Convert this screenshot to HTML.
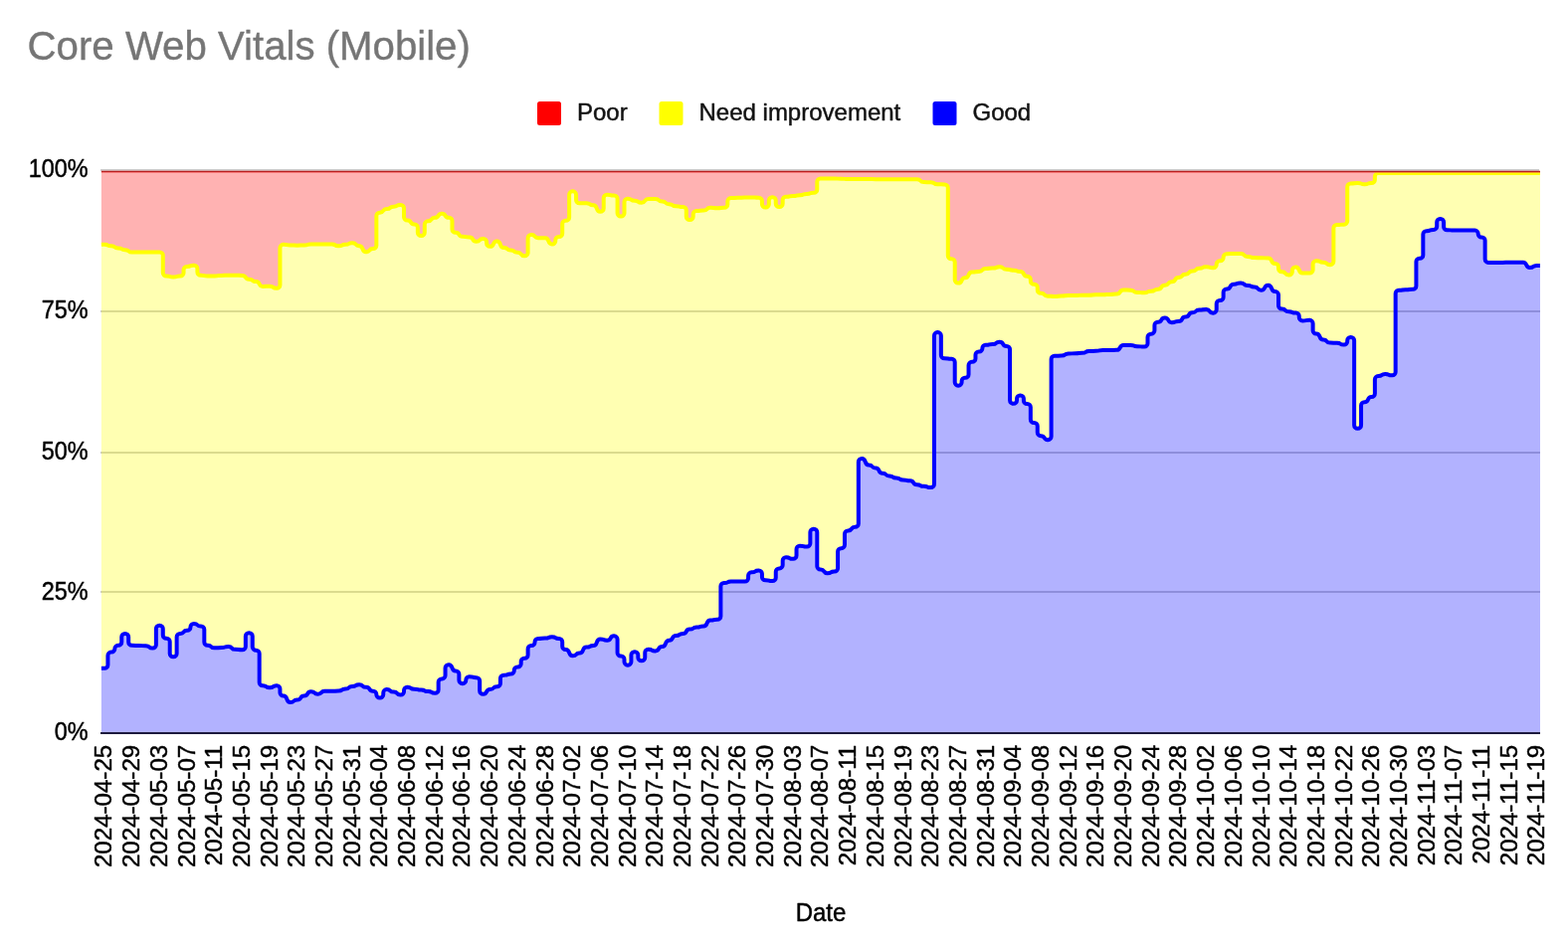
<!DOCTYPE html>
<html lang="en">
<head>
<meta charset="utf-8">
<title>Core Web Vitals (Mobile)</title>
<style>
html,body{margin:0;padding:0;background:#fff;}
body{width:1576px;height:954px;overflow:hidden;font-family:"Liberation Sans",Arial,sans-serif;}
svg{display:block;}
text{font-family:"Liberation Sans",Arial,sans-serif;}
text{paint-order:stroke;stroke-linejoin:round;}
.title{font-size:40.2px;fill:#757575;stroke:#757575;stroke-width:0.35px;}
.leg text,.yax text,.xax text,.xt{font-size:24px;fill:#000;stroke:#000;stroke-width:0.45px;}
.leg text{fill:#111;stroke:#111;}
</style>
</head>
<body>
<svg width="1576" height="954" viewBox="0 0 1576 954">
<rect width="1576" height="954" fill="#fff"/>
<text class="title" transform="translate(27.6 59.7) scale(1 1.03)">Core Web Vitals (Mobile)</text>
<g class="leg">
<rect x="540" y="102" width="24" height="24" rx="2.5" fill="#f00"/>
<text x="580" y="120.6">Poor</text>
<rect x="662.5" y="102" width="24" height="24" rx="2.5" fill="#ff0"/>
<text x="702.5" y="120.6">Need improvement</text>
<rect x="937.5" y="102" width="24" height="24" rx="2.5" fill="#00f"/>
<text x="977.5" y="120.6">Good</text>
</g>
<g class="grid"><rect x="101" y="170" width="1446" height="2" fill="#ccc"/><rect x="101" y="312" width="1447" height="2" fill="#ccc"/><rect x="101" y="454" width="1447" height="2" fill="#ccc"/><rect x="101" y="594" width="1447" height="2" fill="#ccc"/></g>
<g class="areas">
<path d="M101.9 671.84H105.12C106.94 671.84 108.42 670.36 108.42 668.54V658.89C108.42 657.07 109.9 655.59 111.72 655.59H112.04C113.86 655.59 115.34 654.11 115.34 652.29V652.15C115.34 650.33 116.82 648.85 118.64 648.85H118.96C120.79 648.85 122.26 647.37 122.26 645.55V640.26C122.26 638.44 123.74 636.96 125.56 636.96H125.88C127.71 636.96 129.18 638.44 129.18 640.26V645.55C129.18 647.37 130.66 648.85 132.48 648.85H132.81C137.26 648.85 134.95 649.01 139.41 649.01H139.73C144.18 649.01 141.87 649.24 146.33 649.24H146.65C151.1 649.24 148.79 651.62 153.25 651.62H153.57C155.39 651.62 156.87 650.14 156.87 648.32V631.93C156.87 630.11 158.35 628.63 160.17 628.63H160.49C162.31 628.63 163.79 630.11 163.79 631.93V638.41C163.79 640.23 165.27 641.71 167.09 641.71H167.41C169.23 641.71 170.71 643.19 170.71 645.01V657.04C170.71 658.86 172.19 660.34 174.01 660.34H174.33C176.15 660.34 177.63 658.86 177.63 657.04V640.26C177.63 638.44 179.11 636.96 180.93 636.96H181.25C185.71 636.96 183.4 633.78 187.85 633.78H188.17C190 633.78 191.47 632.3 191.47 630.48V630.35C191.47 628.53 192.95 627.05 194.77 627.05H195.09C199.55 627.05 197.24 629.42 201.69 629.42H202.02C203.84 629.42 205.32 630.9 205.32 632.72V645.55C205.32 647.37 206.79 648.85 208.62 648.85H208.94C213.39 648.85 211.08 651.23 215.54 651.23H215.86C220.31 651.23 218 651.07 222.46 651.07H222.78C227.23 651.07 224.92 650.06 229.38 650.06H229.7C234.16 650.06 231.84 652.84 236.3 652.84H236.62C241.08 652.84 238.77 653.23 243.22 653.23H243.54C245.36 653.23 246.84 651.75 246.84 649.93V639.49C246.84 637.67 248.32 636.19 250.14 636.19H250.46C252.29 636.19 253.76 637.67 253.76 639.49V650.33C253.76 652.15 255.24 653.63 257.06 653.63H257.38C259.21 653.63 260.68 655.11 260.68 656.93V686.01C260.68 687.83 262.16 689.31 263.98 689.31H264.31C268.76 689.31 266.45 691.29 270.91 691.29H271.23C275.68 691.29 273.37 689.15 277.83 689.15H278.15C279.97 689.15 281.45 690.63 281.45 692.45V696.31C281.45 698.13 282.92 699.61 284.75 699.61H285.07C289.52 699.61 287.21 705.96 291.67 705.96H291.99C296.44 705.96 294.13 703.58 298.59 703.58H298.91C303.37 703.58 301.06 699.61 305.51 699.61H305.83C310.29 699.61 307.98 695.25 312.43 695.25H312.75C317.21 695.25 314.9 697.63 319.35 697.63H319.67C324.13 697.63 321.82 694.86 326.27 694.86H333.52C337.97 694.86 335.66 694.46 340.12 694.46H340.44C344.89 694.46 342.58 692.48 347.04 692.48H347.36C351.81 692.48 349.5 689.95 353.96 689.95H354.28C358.73 689.95 356.42 688.36 360.88 688.36H361.2C365.65 688.36 363.35 690.74 367.8 690.74H368.12C372.58 690.74 370.27 694.7 374.72 694.7H375.04C376.86 694.7 378.34 696.18 378.34 698V698.14C378.34 699.96 379.82 701.44 381.64 701.44H381.96C383.79 701.44 385.26 699.96 385.26 698.14V696.42C385.26 694.6 386.74 693.12 388.56 693.12H388.88C393.34 693.12 391.03 695.5 395.48 695.5H395.81C400.26 695.5 397.95 698.51 402.41 698.51H402.73C404.55 698.51 406.03 697.03 406.03 695.21V694.04C406.03 692.22 407.5 690.74 409.33 690.74H409.65C414.1 690.74 411.79 692.72 416.25 692.72H416.57C421.02 692.72 418.71 693.51 423.17 693.51H423.49C427.94 693.51 425.63 695.1 430.09 695.1H430.41C434.87 695.1 432.56 696.69 437.01 696.69H437.33C439.15 696.69 440.63 695.21 440.63 693.39V685.72C440.63 683.9 442.11 682.42 443.93 682.42H444.25C446.08 682.42 447.55 680.94 447.55 679.12V671.44C447.55 669.62 449.03 668.14 450.85 668.14H451.17C455.63 668.14 453.32 674.49 457.77 674.49H458.09C459.92 674.49 461.39 675.97 461.39 677.79V683.87C461.39 685.69 462.87 687.17 464.69 687.17H465.02C466.84 687.17 468.32 685.69 468.32 683.87V683.57C468.32 681.75 469.79 680.27 471.62 680.27H471.94C476.39 680.27 474.08 681.14 478.54 681.14H478.86C480.68 681.14 482.16 682.62 482.16 684.44V694.49C482.16 696.31 483.64 697.79 485.46 697.79H485.78C490.23 697.79 487.92 693.03 492.38 693.03H492.7C497.15 693.03 494.85 690.25 499.3 690.25H499.62C501.44 690.25 502.92 688.77 502.92 686.95V682.06C502.92 680.24 504.4 678.76 506.22 678.76H506.54C511 678.76 508.69 677.57 513.14 677.57H513.46C515.29 677.57 516.76 676.09 516.76 674.27V673.73C516.76 671.91 518.24 670.43 520.06 670.43H520.38C522.21 670.43 523.68 668.95 523.68 667.13V665.01C523.68 663.19 525.16 661.71 526.98 661.71H527.31C529.13 661.71 530.61 660.23 530.61 658.41V652.33C530.61 650.51 532.08 649.03 533.91 649.03H534.23C536.05 649.03 537.53 647.55 537.53 645.73V645.19C537.53 643.37 539 641.89 540.83 641.89H541.15C545.6 641.89 543.29 641.5 547.75 641.5H548.07C552.52 641.5 550.21 640.31 554.67 640.31H554.99C559.44 640.31 557.13 641.89 561.59 641.89H561.91C563.73 641.89 565.21 643.37 565.21 645.19V649.69C565.21 651.51 566.69 652.99 568.51 652.99H568.83C573.29 652.99 570.98 659.33 575.43 659.33H575.75C580.21 659.33 577.9 656.56 582.35 656.56H582.67C587.13 656.56 584.82 650.61 589.27 650.61H589.59C594.05 650.61 591.74 649.03 596.19 649.03H596.52C600.97 649.03 598.66 642.51 603.12 642.51H603.44C607.89 642.51 605.58 643.69 610.04 643.69H610.36C614.81 643.69 612.5 639.33 616.96 639.33H617.28C619.1 639.33 620.58 640.81 620.58 642.63V656.25C620.58 658.07 622.06 659.55 623.88 659.55H624.2C626.02 659.55 627.5 661.03 627.5 662.85V665.37C627.5 667.19 628.98 668.67 630.8 668.67H631.12C632.94 668.67 634.42 667.19 634.42 665.37V658.49C634.42 656.67 635.9 655.19 637.72 655.19H638.04C639.86 655.19 641.34 656.67 641.34 658.49V661.01C641.34 662.83 642.82 664.31 644.64 664.31H644.96C646.79 664.31 648.26 662.83 648.26 661.01V656.11C648.26 654.29 649.74 652.81 651.56 652.81H651.88C656.34 652.81 654.03 654.4 658.48 654.4H658.81C663.26 654.4 660.95 650.04 665.41 650.04H665.73C670.18 650.04 667.87 643.69 672.33 643.69H672.65C677.1 643.69 674.79 638.94 679.25 638.94H679.57C684.02 638.94 681.71 636.96 686.17 636.96H686.49C690.94 636.96 688.63 632.6 693.09 632.6H693.41C697.87 632.6 695.56 630.61 700.01 630.61H700.33C704.79 630.61 702.48 629.42 706.93 629.42H707.25C711.71 629.42 709.4 623.48 713.85 623.48H714.17C718.63 623.48 716.32 622.68 720.77 622.68H721.09C722.92 622.68 724.39 621.2 724.39 619.38V589.35C724.39 587.53 725.87 586.05 727.69 586.05H728.02C732.47 586.05 730.16 584.62 734.62 584.62H741.86C746.31 584.62 744 584.46 748.46 584.46H748.78C750.6 584.46 752.08 582.98 752.08 581.16V578.64C752.08 576.82 753.56 575.34 755.38 575.34H755.7C760.15 575.34 757.85 573.52 762.3 573.52H762.62C764.44 573.52 765.92 575 765.92 576.82V579.97C765.92 581.79 767.4 583.27 769.22 583.27H769.54C774 583.27 771.69 584.06 776.14 584.06H776.46C778.29 584.06 779.76 582.58 779.76 580.76V574.68C779.76 572.86 781.24 571.38 783.06 571.38H783.38C785.21 571.38 786.68 569.9 786.68 568.08V563.58C786.68 561.76 788.16 560.28 789.98 560.28H790.31C794.76 560.28 792.45 561.87 796.91 561.87H797.23C799.05 561.87 800.53 560.39 800.53 558.57V552.08C800.53 550.26 802 548.78 803.83 548.78H804.15C808.6 548.78 806.29 549.58 810.75 549.58H811.07C812.89 549.58 814.37 548.1 814.37 546.28V535.04C814.37 533.22 815.85 531.74 817.67 531.74H817.99C819.81 531.74 821.29 533.22 821.29 535.04V569.27C821.29 571.09 822.77 572.57 824.59 572.57H824.91C829.37 572.57 827.06 576.14 831.51 576.14H831.83C836.29 576.14 833.98 574.55 838.43 574.55H838.75C840.58 574.55 842.05 573.07 842.05 571.25V554.46C842.05 552.64 843.53 551.16 845.35 551.16H845.67C847.5 551.16 848.97 549.68 848.97 547.86V536.72C848.97 534.9 850.45 533.42 852.27 533.42H852.59C857.05 533.42 854.74 529.86 859.19 529.86H859.52C861.34 529.86 862.82 528.38 862.82 526.56V464.37C862.82 462.55 864.29 461.07 866.12 461.07H866.44C870.89 461.07 868.58 467.42 873.04 467.42H873.36C877.81 467.42 875.5 470.59 879.96 470.59H880.28C884.73 470.59 882.42 475.74 886.88 475.74H887.2C891.65 475.74 889.35 478.51 893.8 478.51H894.12C898.58 478.51 896.27 480.5 900.72 480.5H901.04C905.5 480.5 903.19 482.48 907.64 482.48H907.96C912.42 482.48 910.11 483.27 914.56 483.27H914.88C919.34 483.27 917.03 487.24 921.48 487.24H921.81C926.26 487.24 923.95 488.82 928.41 488.82H928.73C933.18 488.82 930.87 490.01 935.33 490.01H935.65C937.47 490.01 938.95 488.53 938.95 486.71V337.42C938.95 335.6 940.42 334.12 942.25 334.12H942.57C944.39 334.12 945.87 335.6 945.87 337.42V356.98C945.87 358.8 947.35 360.28 949.17 360.28H949.49C953.94 360.28 951.63 360.68 956.09 360.68H956.41C958.23 360.68 959.71 362.16 959.71 363.98V384.33C959.71 386.15 961.19 387.63 963.01 387.63H963.33C965.15 387.63 966.63 386.15 966.63 384.33V383C966.63 381.18 968.11 379.7 969.93 379.7H970.25C972.08 379.7 973.55 378.22 973.55 376.4V367.15C973.55 365.33 975.03 363.85 976.85 363.85H977.17C979 363.85 980.47 362.37 980.47 360.55V356.84C980.47 355.02 981.95 353.54 983.77 353.54H984.09C985.92 353.54 987.39 352.06 987.39 350.24V350.1C987.39 348.28 988.87 346.8 990.69 346.8H991.02C995.47 346.8 993.16 346.01 997.62 346.01H997.94C1002.39 346.01 1000.08 343.63 1004.54 343.63H1004.86C1009.31 343.63 1007 347.99 1011.46 347.99H1011.78C1013.6 347.99 1015.08 349.47 1015.08 351.29V402.39C1015.08 404.21 1016.56 405.69 1018.38 405.69H1018.7C1020.52 405.69 1022 404.21 1022 402.39V400.82C1022 399 1023.48 397.52 1025.3 397.52H1025.62C1027.44 397.52 1028.92 399 1028.92 400.82V402.77C1028.92 404.59 1030.4 406.07 1032.22 406.07H1032.54C1034.36 406.07 1035.84 407.55 1035.84 409.37V421.64C1035.84 423.46 1037.32 424.94 1039.14 424.94H1039.46C1041.29 424.94 1042.76 426.42 1042.76 428.24V434.84C1042.76 436.66 1044.24 438.14 1046.06 438.14H1046.38C1050.84 438.14 1048.53 442.17 1052.98 442.17H1053.31C1055.13 442.17 1056.61 440.69 1056.61 438.87V361.07C1056.61 359.25 1058.08 357.77 1059.91 357.77H1060.23C1064.68 357.77 1062.37 357.52 1066.83 357.52H1067.15C1071.6 357.52 1069.29 355.5 1073.75 355.5H1074.07C1078.52 355.5 1076.21 355.25 1080.67 355.25H1080.99C1085.44 355.25 1083.13 354.87 1087.59 354.87H1087.91C1092.37 354.87 1090.06 353.11 1094.51 353.11H1094.83C1099.29 353.11 1096.98 352.86 1101.43 352.86H1101.75C1106.21 352.86 1103.9 352.11 1108.35 352.11H1108.67C1113.13 352.11 1110.82 351.98 1115.27 351.98H1115.59C1120.05 351.98 1117.74 351.86 1122.19 351.86H1122.52C1126.97 351.86 1124.66 346.95 1129.12 346.95H1136.36C1140.81 346.95 1138.5 348.21 1142.96 348.21H1143.28C1147.73 348.21 1145.42 348.58 1149.88 348.58H1150.2C1152.02 348.58 1153.5 347.1 1153.5 345.28V338.95C1153.5 337.13 1154.98 335.65 1156.8 335.65H1157.12C1158.94 335.65 1160.42 334.17 1160.42 332.35V327.06C1160.42 325.24 1161.9 323.76 1163.72 323.76H1164.04C1168.5 323.76 1166.19 319.4 1170.64 319.4H1170.96C1175.42 319.4 1173.11 324.15 1177.56 324.15H1177.88C1182.34 324.15 1180.03 322.97 1184.48 322.97H1184.81C1189.26 322.97 1186.95 318.6 1191.41 318.6H1191.73C1196.18 318.6 1193.87 314.24 1198.33 314.24H1198.65C1203.1 314.24 1200.79 311.47 1205.25 311.47H1205.57C1210.02 311.47 1207.71 311.07 1212.17 311.07H1212.49C1216.94 311.07 1214.63 314.64 1219.09 314.64H1219.41C1221.23 314.64 1222.71 313.16 1222.71 311.34V305.26C1222.71 303.44 1224.19 301.96 1226.01 301.96H1226.33C1228.15 301.96 1229.63 300.48 1229.63 298.66V293.76C1229.63 291.94 1231.11 290.46 1232.93 290.46H1233.25C1237.71 290.46 1235.4 285.7 1239.85 285.7H1240.17C1244.63 285.7 1242.32 284.51 1246.77 284.51H1247.09C1251.55 284.51 1249.24 286.89 1253.69 286.89H1254.02C1258.47 286.89 1256.16 288.48 1260.62 288.48H1260.94C1265.39 288.48 1263.08 291.65 1267.54 291.65H1267.86C1272.31 291.65 1270 286.74 1274.46 286.74H1274.78C1279.23 286.74 1276.92 293.08 1281.38 293.08H1281.7C1283.52 293.08 1285 294.56 1285 296.38V307.22C1285 309.04 1286.48 310.52 1288.3 310.52H1288.62C1293.08 310.52 1290.77 313.3 1295.22 313.3H1295.54C1300 313.3 1297.69 314.49 1302.14 314.49H1302.46C1304.29 314.49 1305.76 315.97 1305.76 317.79V319.12C1305.76 320.94 1307.24 322.42 1309.06 322.42H1309.38C1313.84 322.42 1311.53 321.86 1315.98 321.86H1316.31C1318.13 321.86 1319.61 323.34 1319.61 325.16V332.2C1319.61 334.02 1321.08 335.5 1322.91 335.5H1323.23C1327.68 335.5 1325.37 341.44 1329.83 341.44H1330.15C1334.6 341.44 1332.29 344.61 1336.75 344.61H1337.07C1341.52 344.61 1339.21 344.85 1343.67 344.85H1343.99C1348.44 344.85 1346.13 346.6 1350.59 346.6H1350.91C1352.73 346.6 1354.21 345.12 1354.21 343.3V342.36C1354.21 340.54 1355.69 339.06 1357.51 339.06H1357.83C1359.65 339.06 1361.13 340.54 1361.13 342.36V427.5C1361.13 429.32 1362.61 430.8 1364.43 430.8H1364.75C1366.58 430.8 1368.05 429.32 1368.05 427.5V407.54C1368.05 405.72 1369.53 404.24 1371.35 404.24H1371.67C1376.13 404.24 1373.82 399.09 1378.27 399.09H1378.59C1380.42 399.09 1381.89 397.61 1381.89 395.79V381.38C1381.89 379.56 1383.37 378.08 1385.19 378.08H1385.52C1389.97 378.08 1387.66 376.1 1392.12 376.1H1392.44C1396.89 376.1 1394.58 377.29 1399.04 377.29H1399.36C1401.18 377.29 1402.66 375.81 1402.66 373.99V295.1C1402.66 293.28 1404.14 291.8 1405.96 291.8H1406.28C1410.73 291.8 1408.42 291.29 1412.88 291.29H1413.2C1417.65 291.29 1415.35 290.79 1419.8 290.79H1420.12C1421.94 290.79 1423.42 289.31 1423.42 287.49V263.12C1423.42 261.3 1424.9 259.82 1426.72 259.82H1427.04C1428.86 259.82 1430.34 258.34 1430.34 256.52V235.51C1430.34 233.69 1431.82 232.21 1433.64 232.21H1433.96C1438.42 232.21 1436.11 230.89 1440.56 230.89H1440.88C1442.71 230.89 1444.18 229.41 1444.18 227.59V223.33C1444.18 221.51 1445.66 220.03 1447.48 220.03H1447.81C1449.63 220.03 1451.11 221.51 1451.11 223.33V227.89C1451.11 229.71 1452.58 231.19 1454.41 231.19H1454.73C1459.18 231.19 1456.87 231.6 1461.33 231.6H1482.41C1484.23 231.6 1485.71 233.08 1485.71 234.9V235.2C1485.71 237.02 1487.19 238.5 1489.01 238.5H1489.33C1491.15 238.5 1492.63 239.98 1492.63 241.8V260.58C1492.63 262.4 1494.11 263.88 1495.93 263.88H1510.09C1514.55 263.88 1512.24 263.68 1516.69 263.68H1530.86C1535.31 263.68 1533 268.96 1537.46 268.96H1537.78C1542.23 268.96 1539.92 266.93 1544.38 266.93H1548V737.5H101.9Z" fill="#00f" fill-opacity="0.3"/>
<path d="M101.9 245.86H105.12C109.58 245.86 107.27 247.28 111.72 247.28H112.04C116.5 247.28 114.19 249.42 118.64 249.42H118.96C123.42 249.42 121.11 251.25 125.56 251.25H125.88C130.34 251.25 128.03 253.55 132.48 253.55H160.49C162.31 253.55 163.79 255.03 163.79 256.85V274.27C163.79 276.09 165.27 277.57 167.09 277.57H167.41C171.87 277.57 169.56 278.52 174.01 278.52H174.33C178.79 278.52 176.48 277.57 180.93 277.57H181.25C183.08 277.57 184.55 276.09 184.55 274.27V271.2C184.55 269.38 186.03 267.9 187.85 267.9H188.17C192.63 267.9 190.32 266.63 194.77 266.63H195.09C196.92 266.63 198.39 268.11 198.39 269.93V273.48C198.39 275.3 199.87 276.78 201.69 276.78H202.02C206.47 276.78 204.16 277.41 208.62 277.41H215.86C220.31 277.41 218 276.93 222.46 276.93H222.78C227.23 276.93 224.92 276.78 229.38 276.78H236.62C241.08 276.78 238.77 276.93 243.22 276.93H243.54C248 276.93 245.69 280.74 250.14 280.74H250.46C254.92 280.74 252.61 283.12 257.06 283.12H257.38C261.84 283.12 259.53 287.88 263.98 287.88H264.31C268.76 287.88 266.45 287.72 270.91 287.72H271.23C275.68 287.72 273.37 289.86 277.83 289.86H278.15C279.97 289.86 281.45 288.38 281.45 286.56V249.16C281.45 247.34 282.92 245.86 284.75 245.86H285.07C289.52 245.86 287.21 246.49 291.67 246.49H291.99C296.44 246.49 294.13 246.65 298.59 246.65H298.91C303.37 246.65 301.06 246.49 305.51 246.49H305.83C310.29 246.49 307.98 245.46 312.43 245.46H333.52C337.97 245.46 335.66 247.28 340.12 247.28H340.44C344.89 247.28 342.58 245.86 347.04 245.86H347.36C351.81 245.86 349.5 244.15 353.96 244.15H354.28C358.73 244.15 356.42 247.33 360.88 247.33H361.2C365.65 247.33 363.35 253.27 367.8 253.27H368.12C372.58 253.27 370.27 250.1 374.72 250.1H375.04C376.86 250.1 378.34 248.62 378.34 246.8V216.93C378.34 215.11 379.82 213.63 381.64 213.63H381.96C386.42 213.63 384.11 210.06 388.56 210.06H388.88C393.34 210.06 391.03 207.68 395.48 207.68H395.81C400.26 207.68 397.95 205.94 402.41 205.94H402.73C404.55 205.94 406.03 207.42 406.03 209.24V218.26C406.03 220.08 407.5 221.56 409.33 221.56H409.65C414.1 221.56 411.79 225.52 416.25 225.52H416.57C418.39 225.52 419.87 227 419.87 228.82V233.72C419.87 235.54 421.35 237.02 423.17 237.02H423.49C425.31 237.02 426.79 235.54 426.79 233.72V225.65C426.79 223.83 428.27 222.35 430.09 222.35H430.41C434.87 222.35 432.56 218.78 437.01 218.78H437.33C441.79 218.78 439.48 214.66 443.93 214.66H444.25C448.71 214.66 446.4 218.78 450.85 218.78H451.17C453 218.78 454.47 220.26 454.47 222.08V230.55C454.47 232.37 455.95 233.85 457.77 233.85H458.09C462.55 233.85 460.24 237.81 464.69 237.81H465.02C469.47 237.81 467.16 238.45 471.62 238.45H471.94C476.39 238.45 474.08 242.86 478.54 242.86H478.86C483.31 242.86 481 239.93 485.46 239.93H485.78C487.6 239.93 489.08 241.41 489.08 243.23V244.56C489.08 246.38 490.56 247.86 492.38 247.86H492.7C497.15 247.86 494.85 242.55 499.3 242.55H499.62C504.08 242.55 501.77 249.05 506.22 249.05H506.54C511 249.05 508.69 251.42 513.14 251.42H513.46C517.92 251.42 515.61 253.8 520.06 253.8H520.38C524.84 253.8 522.53 257.37 526.98 257.37H527.31C529.13 257.37 530.61 255.89 530.61 254.07V239.27C530.61 237.45 532.08 235.97 533.91 235.97H534.23C538.68 235.97 536.37 239.14 540.83 239.14H541.15C545.6 239.14 543.29 239.37 547.75 239.37H548.07C552.52 239.37 550.21 245.48 554.67 245.48H554.99C556.81 245.48 558.29 244 558.29 242.18V241.25C558.29 239.43 559.77 237.95 561.59 237.95H561.91C563.73 237.95 565.21 236.47 565.21 234.65V224.99C565.21 223.17 566.69 221.69 568.51 221.69H568.83C570.65 221.69 572.13 220.21 572.13 218.39V195.66C572.13 193.84 573.61 192.36 575.43 192.36H575.75C577.58 192.36 579.05 193.84 579.05 195.66V200.95C579.05 202.77 580.53 204.25 582.35 204.25H589.59C594.05 204.25 591.74 206.23 596.19 206.23H596.52C600.97 206.23 598.66 212.79 603.12 212.79H603.44C605.26 212.79 606.74 211.31 606.74 209.49V199.05C606.74 197.23 608.21 195.75 610.04 195.75H610.36C614.81 195.75 612.5 196.54 616.96 196.54H617.28C619.1 196.54 620.58 198.02 620.58 199.84V214.25C620.58 216.07 622.06 217.55 623.88 217.55H624.2C626.02 217.55 627.5 216.07 627.5 214.25V203.01C627.5 201.19 628.98 199.71 630.8 199.71H631.12C635.58 199.71 633.27 201.69 637.72 201.69H638.04C642.5 201.69 640.19 203.68 644.64 203.68H644.96C649.42 203.68 647.11 199.95 651.56 199.95H658.81C663.26 199.95 660.95 202.49 665.41 202.49H665.73C670.18 202.49 667.87 205.26 672.33 205.26H672.65C677.1 205.26 674.79 207.24 679.25 207.24H679.57C684.02 207.24 681.71 208.04 686.17 208.04H686.49C688.31 208.04 689.79 209.52 689.79 211.34V217.66C689.79 219.48 691.27 220.96 693.09 220.96H693.41C695.23 220.96 696.71 219.48 696.71 217.66V215.3C696.71 213.48 698.19 212 700.01 212H700.33C704.79 212 702.48 211.6 706.93 211.6H707.25C711.71 211.6 709.4 208.83 713.85 208.83H714.17C718.63 208.83 716.32 209.23 720.77 209.23H721.09C725.55 209.23 723.24 208.83 727.69 208.83H728.02C729.84 208.83 731.32 207.35 731.32 205.53V202.38C731.32 200.56 732.79 199.08 734.62 199.08H734.94C739.39 199.08 737.08 198.76 741.54 198.76H741.86C746.31 198.76 744 198.6 748.46 198.6H748.78C753.23 198.6 750.92 198.44 755.38 198.44H755.7C760.15 198.44 757.85 198.76 762.3 198.76H762.62C764.44 198.76 765.92 200.24 765.92 202.06V205.13C765.92 206.95 767.4 208.43 769.22 208.43H769.54C771.36 208.43 772.84 206.95 772.84 205.13V201.43C772.84 199.61 774.32 198.13 776.14 198.13H776.46C778.29 198.13 779.76 199.61 779.76 201.43V204.74C779.76 206.56 781.24 208.04 783.06 208.04H783.38C785.21 208.04 786.68 206.56 786.68 204.74V201.03C786.68 199.21 788.16 197.73 789.98 197.73H790.31C794.76 197.73 792.45 196.94 796.91 196.94H797.23C801.68 196.94 799.37 196.14 803.83 196.14H804.15C808.6 196.14 806.29 194.96 810.75 194.96H811.07C815.52 194.96 813.21 193.77 817.67 193.77H817.99C819.81 193.77 821.29 192.29 821.29 190.47V182.8C821.29 180.98 822.77 179.5 824.59 179.5H838.75C843.21 179.5 840.9 179.73 845.35 179.73H845.67C850.13 179.73 847.82 180.05 852.27 180.05H873.36C877.81 180.05 875.5 180.13 879.96 180.13H894.12C898.58 180.13 896.27 180.21 900.72 180.21H921.81C926.26 180.21 923.95 183.06 928.41 183.06H928.73C933.18 183.06 930.87 183.22 935.33 183.22H935.65C940.1 183.22 937.79 185.28 942.25 185.28H942.57C947.02 185.28 944.71 185.44 949.17 185.44H949.49C951.31 185.44 952.79 186.92 952.79 188.74V256.91C952.79 258.73 954.27 260.21 956.09 260.21H956.41C958.23 260.21 959.71 261.69 959.71 263.51V281.25C959.71 283.07 961.19 284.55 963.01 284.55H963.33C967.79 284.55 965.48 279.24 969.93 279.24H970.25C974.71 279.24 972.4 273.45 976.85 273.45H977.17C981.63 273.45 979.32 273.05 983.77 273.05H984.09C988.55 273.05 986.24 269.88 990.69 269.88H991.02C995.47 269.88 993.16 269.49 997.62 269.49H997.94C1002.39 269.49 1000.08 268.3 1004.54 268.3H1004.86C1009.31 268.3 1007 270.68 1011.46 270.68H1011.78C1016.23 270.68 1013.92 271.63 1018.38 271.63H1018.7C1023.15 271.63 1020.85 273.05 1025.3 273.05H1025.62C1030.08 273.05 1027.77 277.81 1032.22 277.81H1032.54C1034.36 277.81 1035.84 279.29 1035.84 281.11V282.44C1035.84 284.26 1037.32 285.74 1039.14 285.74H1039.46C1041.29 285.74 1042.76 287.22 1042.76 289.04V291.56C1042.76 293.38 1044.24 294.86 1046.06 294.86H1046.38C1050.84 294.86 1048.53 297.63 1052.98 297.63H1053.31C1057.76 297.63 1055.45 298.03 1059.91 298.03H1060.23C1064.68 298.03 1062.37 297.48 1066.83 297.48H1067.15C1071.6 297.48 1069.29 297.08 1073.75 297.08H1080.99C1085.44 297.08 1083.13 296.69 1087.59 296.69H1094.83C1099.29 296.69 1096.98 296.29 1101.43 296.29H1108.67C1113.13 296.29 1110.82 295.89 1115.27 295.89H1115.59C1120.05 295.89 1117.74 295.5 1122.19 295.5H1122.52C1126.97 295.5 1124.66 291.53 1129.12 291.53H1129.44C1133.89 291.53 1131.58 291.69 1136.04 291.69H1136.36C1140.81 291.69 1138.5 293.91 1142.96 293.91H1143.28C1147.73 293.91 1145.42 294.31 1149.88 294.31H1150.2C1154.65 294.31 1152.35 292.72 1156.8 292.72H1157.12C1161.58 292.72 1159.27 290.74 1163.72 290.74H1164.04C1168.5 290.74 1166.19 286.78 1170.64 286.78H1170.96C1175.42 286.78 1173.11 283.21 1177.56 283.21H1177.88C1182.34 283.21 1180.03 278.91 1184.48 278.91H1184.81C1189.26 278.91 1186.95 275.74 1191.41 275.74H1191.73C1196.18 275.74 1193.87 272.57 1198.33 272.57H1198.65C1203.1 272.57 1200.79 269.79 1205.25 269.79H1205.57C1210.02 269.79 1207.71 268.21 1212.17 268.21H1212.49C1216.94 268.21 1214.63 269.24 1219.09 269.24H1219.41C1221.23 269.24 1222.71 267.76 1222.71 265.94V265.56C1222.71 263.74 1224.19 262.26 1226.01 262.26H1226.33C1228.15 262.26 1229.63 260.78 1229.63 258.96V258.43C1229.63 256.61 1231.11 255.13 1232.93 255.13H1233.25C1237.71 255.13 1235.4 254.97 1239.85 254.97H1247.09C1251.55 254.97 1249.24 257.9 1253.69 257.9H1254.02C1258.47 257.9 1256.16 259.09 1260.62 259.09H1260.94C1265.39 259.09 1263.08 259.25 1267.54 259.25H1267.86C1272.31 259.25 1270 259.49 1274.46 259.49H1274.78C1279.23 259.49 1276.92 265.04 1281.38 265.04H1281.7C1283.52 265.04 1285 266.52 1285 268.34V270.06C1285 271.88 1286.48 273.36 1288.3 273.36H1288.62C1293.08 273.36 1290.77 276.44 1295.22 276.44H1295.54C1297.36 276.44 1298.84 274.96 1298.84 273.14V271.81C1298.84 269.99 1300.32 268.51 1302.14 268.51H1302.46C1306.92 268.51 1304.61 274.46 1309.06 274.46H1316.31C1318.13 274.46 1319.61 272.98 1319.61 271.16V265.47C1319.61 263.65 1321.08 262.17 1322.91 262.17H1323.23C1327.68 262.17 1325.37 263.76 1329.83 263.76H1330.15C1334.6 263.76 1332.29 266.14 1336.75 266.14H1337.07C1338.89 266.14 1340.37 264.66 1340.37 262.84V229.35C1340.37 227.53 1341.85 226.05 1343.67 226.05H1343.99C1348.44 226.05 1346.13 225.65 1350.59 225.65H1350.91C1352.73 225.65 1354.21 224.17 1354.21 222.35V187.72C1354.21 185.9 1355.69 184.42 1357.51 184.42H1357.83C1362.29 184.42 1359.98 184.03 1364.43 184.03H1364.75C1369.21 184.03 1366.9 185.22 1371.35 185.22H1371.67C1376.13 185.22 1373.82 184.03 1378.27 184.03H1378.59C1380.42 184.03 1381.89 182.55 1381.89 180.73V177.42C1381.89 175.6 1383.37 174.12 1385.19 174.12H1548V266.93H1544.38C1539.92 266.93 1542.23 268.96 1537.78 268.96H1537.46C1533 268.96 1535.31 263.68 1530.86 263.68H1516.69C1512.24 263.68 1514.55 263.88 1510.09 263.88H1495.93C1494.11 263.88 1492.63 262.4 1492.63 260.58V241.8C1492.63 239.98 1491.15 238.5 1489.33 238.5H1489.01C1487.19 238.5 1485.71 237.02 1485.71 235.2V234.9C1485.71 233.08 1484.23 231.6 1482.41 231.6H1461.33C1456.87 231.6 1459.18 231.19 1454.73 231.19H1454.41C1452.58 231.19 1451.11 229.71 1451.11 227.89V223.33C1451.11 221.51 1449.63 220.03 1447.81 220.03H1447.48C1445.66 220.03 1444.18 221.51 1444.18 223.33V227.59C1444.18 229.41 1442.71 230.89 1440.88 230.89H1440.56C1436.11 230.89 1438.42 232.21 1433.96 232.21H1433.64C1431.82 232.21 1430.34 233.69 1430.34 235.51V256.52C1430.34 258.34 1428.86 259.82 1427.04 259.82H1426.72C1424.9 259.82 1423.42 261.3 1423.42 263.12V287.49C1423.42 289.31 1421.94 290.79 1420.12 290.79H1419.8C1415.35 290.79 1417.65 291.29 1413.2 291.29H1412.88C1408.42 291.29 1410.73 291.8 1406.28 291.8H1405.96C1404.14 291.8 1402.66 293.28 1402.66 295.1V373.99C1402.66 375.81 1401.18 377.29 1399.36 377.29H1399.04C1394.58 377.29 1396.89 376.1 1392.44 376.1H1392.12C1387.66 376.1 1389.97 378.08 1385.52 378.08H1385.19C1383.37 378.08 1381.89 379.56 1381.89 381.38V395.79C1381.89 397.61 1380.42 399.09 1378.59 399.09H1378.27C1373.82 399.09 1376.13 404.24 1371.67 404.24H1371.35C1369.53 404.24 1368.05 405.72 1368.05 407.54V427.5C1368.05 429.32 1366.58 430.8 1364.75 430.8H1364.43C1362.61 430.8 1361.13 429.32 1361.13 427.5V342.36C1361.13 340.54 1359.65 339.06 1357.83 339.06H1357.51C1355.69 339.06 1354.21 340.54 1354.21 342.36V343.3C1354.21 345.12 1352.73 346.6 1350.91 346.6H1350.59C1346.13 346.6 1348.44 344.85 1343.99 344.85H1343.67C1339.21 344.85 1341.52 344.61 1337.07 344.61H1336.75C1332.29 344.61 1334.6 341.44 1330.15 341.44H1329.83C1325.37 341.44 1327.68 335.5 1323.23 335.5H1322.91C1321.08 335.5 1319.61 334.02 1319.61 332.2V325.16C1319.61 323.34 1318.13 321.86 1316.31 321.86H1315.98C1311.53 321.86 1313.84 322.42 1309.38 322.42H1309.06C1307.24 322.42 1305.76 320.94 1305.76 319.12V317.79C1305.76 315.97 1304.29 314.49 1302.46 314.49H1302.14C1297.69 314.49 1300 313.3 1295.54 313.3H1295.22C1290.77 313.3 1293.08 310.52 1288.62 310.52H1288.3C1286.48 310.52 1285 309.04 1285 307.22V296.38C1285 294.56 1283.52 293.08 1281.7 293.08H1281.38C1276.92 293.08 1279.23 286.74 1274.78 286.74H1274.46C1270 286.74 1272.31 291.65 1267.86 291.65H1267.54C1263.08 291.65 1265.39 288.48 1260.94 288.48H1260.62C1256.16 288.48 1258.47 286.89 1254.02 286.89H1253.69C1249.24 286.89 1251.55 284.51 1247.09 284.51H1246.77C1242.32 284.51 1244.63 285.7 1240.17 285.7H1239.85C1235.4 285.7 1237.71 290.46 1233.25 290.46H1232.93C1231.11 290.46 1229.63 291.94 1229.63 293.76V298.66C1229.63 300.48 1228.15 301.96 1226.33 301.96H1226.01C1224.19 301.96 1222.71 303.44 1222.71 305.26V311.34C1222.71 313.16 1221.23 314.64 1219.41 314.64H1219.09C1214.63 314.64 1216.94 311.07 1212.49 311.07H1212.17C1207.71 311.07 1210.02 311.47 1205.57 311.47H1205.25C1200.79 311.47 1203.1 314.24 1198.65 314.24H1198.33C1193.87 314.24 1196.18 318.6 1191.73 318.6H1191.41C1186.95 318.6 1189.26 322.97 1184.81 322.97H1184.48C1180.03 322.97 1182.34 324.15 1177.88 324.15H1177.56C1173.11 324.15 1175.42 319.4 1170.96 319.4H1170.64C1166.19 319.4 1168.5 323.76 1164.04 323.76H1163.72C1161.9 323.76 1160.42 325.24 1160.42 327.06V332.35C1160.42 334.17 1158.94 335.65 1157.12 335.65H1156.8C1154.98 335.65 1153.5 337.13 1153.5 338.95V345.28C1153.5 347.1 1152.02 348.58 1150.2 348.58H1149.88C1145.42 348.58 1147.73 348.21 1143.28 348.21H1142.96C1138.5 348.21 1140.81 346.95 1136.36 346.95H1129.12C1124.66 346.95 1126.97 351.86 1122.52 351.86H1122.19C1117.74 351.86 1120.05 351.98 1115.59 351.98H1115.27C1110.82 351.98 1113.13 352.11 1108.67 352.11H1108.35C1103.9 352.11 1106.21 352.86 1101.75 352.86H1101.43C1096.98 352.86 1099.29 353.11 1094.83 353.11H1094.51C1090.06 353.11 1092.37 354.87 1087.91 354.87H1087.59C1083.13 354.87 1085.44 355.25 1080.99 355.25H1080.67C1076.21 355.25 1078.52 355.5 1074.07 355.5H1073.75C1069.29 355.5 1071.6 357.52 1067.15 357.52H1066.83C1062.37 357.52 1064.68 357.77 1060.23 357.77H1059.91C1058.08 357.77 1056.61 359.25 1056.61 361.07V438.87C1056.61 440.69 1055.13 442.17 1053.31 442.17H1052.98C1048.53 442.17 1050.84 438.14 1046.38 438.14H1046.06C1044.24 438.14 1042.76 436.66 1042.76 434.84V428.24C1042.76 426.42 1041.29 424.94 1039.46 424.94H1039.14C1037.32 424.94 1035.84 423.46 1035.84 421.64V409.37C1035.84 407.55 1034.36 406.07 1032.54 406.07H1032.22C1030.4 406.07 1028.92 404.59 1028.92 402.77V400.82C1028.92 399 1027.44 397.52 1025.62 397.52H1025.3C1023.48 397.52 1022 399 1022 400.82V402.39C1022 404.21 1020.52 405.69 1018.7 405.69H1018.38C1016.56 405.69 1015.08 404.21 1015.08 402.39V351.29C1015.08 349.47 1013.6 347.99 1011.78 347.99H1011.46C1007 347.99 1009.31 343.63 1004.86 343.63H1004.54C1000.08 343.63 1002.39 346.01 997.94 346.01H997.62C993.16 346.01 995.47 346.8 991.02 346.8H990.69C988.87 346.8 987.39 348.28 987.39 350.1V350.24C987.39 352.06 985.92 353.54 984.09 353.54H983.77C981.95 353.54 980.47 355.02 980.47 356.84V360.55C980.47 362.37 979 363.85 977.17 363.85H976.85C975.03 363.85 973.55 365.33 973.55 367.15V376.4C973.55 378.22 972.08 379.7 970.25 379.7H969.93C968.11 379.7 966.63 381.18 966.63 383V384.33C966.63 386.15 965.15 387.63 963.33 387.63H963.01C961.19 387.63 959.71 386.15 959.71 384.33V363.98C959.71 362.16 958.23 360.68 956.41 360.68H956.09C951.63 360.68 953.94 360.28 949.49 360.28H949.17C947.35 360.28 945.87 358.8 945.87 356.98V337.42C945.87 335.6 944.39 334.12 942.57 334.12H942.25C940.42 334.12 938.95 335.6 938.95 337.42V486.71C938.95 488.53 937.47 490.01 935.65 490.01H935.33C930.87 490.01 933.18 488.82 928.73 488.82H928.41C923.95 488.82 926.26 487.24 921.81 487.24H921.48C917.03 487.24 919.34 483.27 914.88 483.27H914.56C910.11 483.27 912.42 482.48 907.96 482.48H907.64C903.19 482.48 905.5 480.5 901.04 480.5H900.72C896.27 480.5 898.58 478.51 894.12 478.51H893.8C889.35 478.51 891.65 475.74 887.2 475.74H886.88C882.42 475.74 884.73 470.59 880.28 470.59H879.96C875.5 470.59 877.81 467.42 873.36 467.42H873.04C868.58 467.42 870.89 461.07 866.44 461.07H866.12C864.29 461.07 862.82 462.55 862.82 464.37V526.56C862.82 528.38 861.34 529.86 859.52 529.86H859.19C854.74 529.86 857.05 533.42 852.59 533.42H852.27C850.45 533.42 848.97 534.9 848.97 536.72V547.86C848.97 549.68 847.5 551.16 845.67 551.16H845.35C843.53 551.16 842.05 552.64 842.05 554.46V571.25C842.05 573.07 840.58 574.55 838.75 574.55H838.43C833.98 574.55 836.29 576.14 831.83 576.14H831.51C827.06 576.14 829.37 572.57 824.91 572.57H824.59C822.77 572.57 821.29 571.09 821.29 569.27V535.04C821.29 533.22 819.81 531.74 817.99 531.74H817.67C815.85 531.74 814.37 533.22 814.37 535.04V546.28C814.37 548.1 812.89 549.58 811.07 549.58H810.75C806.29 549.58 808.6 548.78 804.15 548.78H803.83C802 548.78 800.53 550.26 800.53 552.08V558.57C800.53 560.39 799.05 561.87 797.23 561.87H796.91C792.45 561.87 794.76 560.28 790.31 560.28H789.98C788.16 560.28 786.68 561.76 786.68 563.58V568.08C786.68 569.9 785.21 571.38 783.38 571.38H783.06C781.24 571.38 779.76 572.86 779.76 574.68V580.76C779.76 582.58 778.29 584.06 776.46 584.06H776.14C771.69 584.06 774 583.27 769.54 583.27H769.22C767.4 583.27 765.92 581.79 765.92 579.97V576.82C765.92 575 764.44 573.52 762.62 573.52H762.3C757.85 573.52 760.15 575.34 755.7 575.34H755.38C753.56 575.34 752.08 576.82 752.08 578.64V581.16C752.08 582.98 750.6 584.46 748.78 584.46H748.46C744 584.46 746.31 584.62 741.86 584.62H734.62C730.16 584.62 732.47 586.05 728.02 586.05H727.69C725.87 586.05 724.39 587.53 724.39 589.35V619.38C724.39 621.2 722.92 622.68 721.09 622.68H720.77C716.32 622.68 718.63 623.48 714.17 623.48H713.85C709.4 623.48 711.71 629.42 707.25 629.42H706.93C702.48 629.42 704.79 630.61 700.33 630.61H700.01C695.56 630.61 697.87 632.6 693.41 632.6H693.09C688.63 632.6 690.94 636.96 686.49 636.96H686.17C681.71 636.96 684.02 638.94 679.57 638.94H679.25C674.79 638.94 677.1 643.69 672.65 643.69H672.33C667.87 643.69 670.18 650.04 665.73 650.04H665.41C660.95 650.04 663.26 654.4 658.81 654.4H658.48C654.03 654.4 656.34 652.81 651.88 652.81H651.56C649.74 652.81 648.26 654.29 648.26 656.11V661.01C648.26 662.83 646.79 664.31 644.96 664.31H644.64C642.82 664.31 641.34 662.83 641.34 661.01V658.49C641.34 656.67 639.86 655.19 638.04 655.19H637.72C635.9 655.19 634.42 656.67 634.42 658.49V665.37C634.42 667.19 632.94 668.67 631.12 668.67H630.8C628.98 668.67 627.5 667.19 627.5 665.37V662.85C627.5 661.03 626.02 659.55 624.2 659.55H623.88C622.06 659.55 620.58 658.07 620.58 656.25V642.63C620.58 640.81 619.1 639.33 617.28 639.33H616.96C612.5 639.33 614.81 643.69 610.36 643.69H610.04C605.58 643.69 607.89 642.51 603.44 642.51H603.12C598.66 642.51 600.97 649.03 596.52 649.03H596.19C591.74 649.03 594.05 650.61 589.59 650.61H589.27C584.82 650.61 587.13 656.56 582.67 656.56H582.35C577.9 656.56 580.21 659.33 575.75 659.33H575.43C570.98 659.33 573.29 652.99 568.83 652.99H568.51C566.69 652.99 565.21 651.51 565.21 649.69V645.19C565.21 643.37 563.73 641.89 561.91 641.89H561.59C557.13 641.89 559.44 640.31 554.99 640.31H554.67C550.21 640.31 552.52 641.5 548.07 641.5H547.75C543.29 641.5 545.6 641.89 541.15 641.89H540.83C539 641.89 537.53 643.37 537.53 645.19V645.73C537.53 647.55 536.05 649.03 534.23 649.03H533.91C532.08 649.03 530.61 650.51 530.61 652.33V658.41C530.61 660.23 529.13 661.71 527.31 661.71H526.98C525.16 661.71 523.68 663.19 523.68 665.01V667.13C523.68 668.95 522.21 670.43 520.38 670.43H520.06C518.24 670.43 516.76 671.91 516.76 673.73V674.27C516.76 676.09 515.29 677.57 513.46 677.57H513.14C508.69 677.57 511 678.76 506.54 678.76H506.22C504.4 678.76 502.92 680.24 502.92 682.06V686.95C502.92 688.77 501.44 690.25 499.62 690.25H499.3C494.85 690.25 497.15 693.03 492.7 693.03H492.38C487.92 693.03 490.23 697.79 485.78 697.79H485.46C483.64 697.79 482.16 696.31 482.16 694.49V684.44C482.16 682.62 480.68 681.14 478.86 681.14H478.54C474.08 681.14 476.39 680.27 471.94 680.27H471.62C469.79 680.27 468.32 681.75 468.32 683.57V683.87C468.32 685.69 466.84 687.17 465.02 687.17H464.69C462.87 687.17 461.39 685.69 461.39 683.87V677.79C461.39 675.97 459.92 674.49 458.09 674.49H457.77C453.32 674.49 455.63 668.14 451.17 668.14H450.85C449.03 668.14 447.55 669.62 447.55 671.44V679.12C447.55 680.94 446.08 682.42 444.25 682.42H443.93C442.11 682.42 440.63 683.9 440.63 685.72V693.39C440.63 695.21 439.15 696.69 437.33 696.69H437.01C432.56 696.69 434.87 695.1 430.41 695.1H430.09C425.63 695.1 427.94 693.51 423.49 693.51H423.17C418.71 693.51 421.02 692.72 416.57 692.72H416.25C411.79 692.72 414.1 690.74 409.65 690.74H409.33C407.5 690.74 406.03 692.22 406.03 694.04V695.21C406.03 697.03 404.55 698.51 402.73 698.51H402.41C397.95 698.51 400.26 695.5 395.81 695.5H395.48C391.03 695.5 393.34 693.12 388.88 693.12H388.56C386.74 693.12 385.26 694.6 385.26 696.42V698.14C385.26 699.96 383.79 701.44 381.96 701.44H381.64C379.82 701.44 378.34 699.96 378.34 698.14V698C378.34 696.18 376.86 694.7 375.04 694.7H374.72C370.27 694.7 372.58 690.74 368.12 690.74H367.8C363.35 690.74 365.65 688.36 361.2 688.36H360.88C356.42 688.36 358.73 689.95 354.28 689.95H353.96C349.5 689.95 351.81 692.48 347.36 692.48H347.04C342.58 692.48 344.89 694.46 340.44 694.46H340.12C335.66 694.46 337.97 694.86 333.52 694.86H326.27C321.82 694.86 324.13 697.63 319.67 697.63H319.35C314.9 697.63 317.21 695.25 312.75 695.25H312.43C307.98 695.25 310.29 699.61 305.83 699.61H305.51C301.06 699.61 303.37 703.58 298.91 703.58H298.59C294.13 703.58 296.44 705.96 291.99 705.96H291.67C287.21 705.96 289.52 699.61 285.07 699.61H284.75C282.92 699.61 281.45 698.13 281.45 696.31V692.45C281.45 690.63 279.97 689.15 278.15 689.15H277.83C273.37 689.15 275.68 691.29 271.23 691.29H270.91C266.45 691.29 268.76 689.31 264.31 689.31H263.98C262.16 689.31 260.68 687.83 260.68 686.01V656.93C260.68 655.11 259.21 653.63 257.38 653.63H257.06C255.24 653.63 253.76 652.15 253.76 650.33V639.49C253.76 637.67 252.29 636.19 250.46 636.19H250.14C248.32 636.19 246.84 637.67 246.84 639.49V649.93C246.84 651.75 245.36 653.23 243.54 653.23H243.22C238.77 653.23 241.08 652.84 236.62 652.84H236.3C231.84 652.84 234.16 650.06 229.7 650.06H229.38C224.92 650.06 227.23 651.07 222.78 651.07H222.46C218 651.07 220.31 651.23 215.86 651.23H215.54C211.08 651.23 213.39 648.85 208.94 648.85H208.62C206.79 648.85 205.32 647.37 205.32 645.55V632.72C205.32 630.9 203.84 629.42 202.02 629.42H201.69C197.24 629.42 199.55 627.05 195.09 627.05H194.77C192.95 627.05 191.47 628.53 191.47 630.35V630.48C191.47 632.3 190 633.78 188.17 633.78H187.85C183.4 633.78 185.71 636.96 181.25 636.96H180.93C179.11 636.96 177.63 638.44 177.63 640.26V657.04C177.63 658.86 176.15 660.34 174.33 660.34H174.01C172.19 660.34 170.71 658.86 170.71 657.04V645.01C170.71 643.19 169.23 641.71 167.41 641.71H167.09C165.27 641.71 163.79 640.23 163.79 638.41V631.93C163.79 630.11 162.31 628.63 160.49 628.63H160.17C158.35 628.63 156.87 630.11 156.87 631.93V648.32C156.87 650.14 155.39 651.62 153.57 651.62H153.25C148.79 651.62 151.1 649.24 146.65 649.24H146.33C141.87 649.24 144.18 649.01 139.73 649.01H139.41C134.95 649.01 137.26 648.85 132.81 648.85H132.48C130.66 648.85 129.18 647.37 129.18 645.55V640.26C129.18 638.44 127.71 636.96 125.88 636.96H125.56C123.74 636.96 122.26 638.44 122.26 640.26V645.55C122.26 647.37 120.79 648.85 118.96 648.85H118.64C116.82 648.85 115.34 650.33 115.34 652.15V652.29C115.34 654.11 113.86 655.59 112.04 655.59H111.72C109.9 655.59 108.42 657.07 108.42 658.89V668.54C108.42 670.36 106.94 671.84 105.12 671.84H101.9Z" fill="#ff0" fill-opacity="0.3"/>
<path d="M101.9 171.5H1548V174.12H1385.19C1383.37 174.12 1381.89 175.6 1381.89 177.42V180.73C1381.89 182.55 1380.42 184.03 1378.59 184.03H1378.27C1373.82 184.03 1376.13 185.22 1371.67 185.22H1371.35C1366.9 185.22 1369.21 184.03 1364.75 184.03H1364.43C1359.98 184.03 1362.29 184.42 1357.83 184.42H1357.51C1355.69 184.42 1354.21 185.9 1354.21 187.72V222.35C1354.21 224.17 1352.73 225.65 1350.91 225.65H1350.59C1346.13 225.65 1348.44 226.05 1343.99 226.05H1343.67C1341.85 226.05 1340.37 227.53 1340.37 229.35V262.84C1340.37 264.66 1338.89 266.14 1337.07 266.14H1336.75C1332.29 266.14 1334.6 263.76 1330.15 263.76H1329.83C1325.37 263.76 1327.68 262.17 1323.23 262.17H1322.91C1321.08 262.17 1319.61 263.65 1319.61 265.47V271.16C1319.61 272.98 1318.13 274.46 1316.31 274.46H1309.06C1304.61 274.46 1306.92 268.51 1302.46 268.51H1302.14C1300.32 268.51 1298.84 269.99 1298.84 271.81V273.14C1298.84 274.96 1297.36 276.44 1295.54 276.44H1295.22C1290.77 276.44 1293.08 273.36 1288.62 273.36H1288.3C1286.48 273.36 1285 271.88 1285 270.06V268.34C1285 266.52 1283.52 265.04 1281.7 265.04H1281.38C1276.92 265.04 1279.23 259.49 1274.78 259.49H1274.46C1270 259.49 1272.31 259.25 1267.86 259.25H1267.54C1263.08 259.25 1265.39 259.09 1260.94 259.09H1260.62C1256.16 259.09 1258.47 257.9 1254.02 257.9H1253.69C1249.24 257.9 1251.55 254.97 1247.09 254.97H1239.85C1235.4 254.97 1237.71 255.13 1233.25 255.13H1232.93C1231.11 255.13 1229.63 256.61 1229.63 258.43V258.96C1229.63 260.78 1228.15 262.26 1226.33 262.26H1226.01C1224.19 262.26 1222.71 263.74 1222.71 265.56V265.94C1222.71 267.76 1221.23 269.24 1219.41 269.24H1219.09C1214.63 269.24 1216.94 268.21 1212.49 268.21H1212.17C1207.71 268.21 1210.02 269.79 1205.57 269.79H1205.25C1200.79 269.79 1203.1 272.57 1198.65 272.57H1198.33C1193.87 272.57 1196.18 275.74 1191.73 275.74H1191.41C1186.95 275.74 1189.26 278.91 1184.81 278.91H1184.48C1180.03 278.91 1182.34 283.21 1177.88 283.21H1177.56C1173.11 283.21 1175.42 286.78 1170.96 286.78H1170.64C1166.19 286.78 1168.5 290.74 1164.04 290.74H1163.72C1159.27 290.74 1161.58 292.72 1157.12 292.72H1156.8C1152.35 292.72 1154.65 294.31 1150.2 294.31H1149.88C1145.42 294.31 1147.73 293.91 1143.28 293.91H1142.96C1138.5 293.91 1140.81 291.69 1136.36 291.69H1136.04C1131.58 291.69 1133.89 291.53 1129.44 291.53H1129.12C1124.66 291.53 1126.97 295.5 1122.52 295.5H1122.19C1117.74 295.5 1120.05 295.89 1115.59 295.89H1115.27C1110.82 295.89 1113.13 296.29 1108.67 296.29H1101.43C1096.98 296.29 1099.29 296.69 1094.83 296.69H1087.59C1083.13 296.69 1085.44 297.08 1080.99 297.08H1073.75C1069.29 297.08 1071.6 297.48 1067.15 297.48H1066.83C1062.37 297.48 1064.68 298.03 1060.23 298.03H1059.91C1055.45 298.03 1057.76 297.63 1053.31 297.63H1052.98C1048.53 297.63 1050.84 294.86 1046.38 294.86H1046.06C1044.24 294.86 1042.76 293.38 1042.76 291.56V289.04C1042.76 287.22 1041.29 285.74 1039.46 285.74H1039.14C1037.32 285.74 1035.84 284.26 1035.84 282.44V281.11C1035.84 279.29 1034.36 277.81 1032.54 277.81H1032.22C1027.77 277.81 1030.08 273.05 1025.62 273.05H1025.3C1020.85 273.05 1023.15 271.63 1018.7 271.63H1018.38C1013.92 271.63 1016.23 270.68 1011.78 270.68H1011.46C1007 270.68 1009.31 268.3 1004.86 268.3H1004.54C1000.08 268.3 1002.39 269.49 997.94 269.49H997.62C993.16 269.49 995.47 269.88 991.02 269.88H990.69C986.24 269.88 988.55 273.05 984.09 273.05H983.77C979.32 273.05 981.63 273.45 977.17 273.45H976.85C972.4 273.45 974.71 279.24 970.25 279.24H969.93C965.48 279.24 967.79 284.55 963.33 284.55H963.01C961.19 284.55 959.71 283.07 959.71 281.25V263.51C959.71 261.69 958.23 260.21 956.41 260.21H956.09C954.27 260.21 952.79 258.73 952.79 256.91V188.74C952.79 186.92 951.31 185.44 949.49 185.44H949.17C944.71 185.44 947.02 185.28 942.57 185.28H942.25C937.79 185.28 940.1 183.22 935.65 183.22H935.33C930.87 183.22 933.18 183.06 928.73 183.06H928.41C923.95 183.06 926.26 180.21 921.81 180.21H900.72C896.27 180.21 898.58 180.13 894.12 180.13H879.96C875.5 180.13 877.81 180.05 873.36 180.05H852.27C847.82 180.05 850.13 179.73 845.67 179.73H845.35C840.9 179.73 843.21 179.5 838.75 179.5H824.59C822.77 179.5 821.29 180.98 821.29 182.8V190.47C821.29 192.29 819.81 193.77 817.99 193.77H817.67C813.21 193.77 815.52 194.96 811.07 194.96H810.75C806.29 194.96 808.6 196.14 804.15 196.14H803.83C799.37 196.14 801.68 196.94 797.23 196.94H796.91C792.45 196.94 794.76 197.73 790.31 197.73H789.98C788.16 197.73 786.68 199.21 786.68 201.03V204.74C786.68 206.56 785.21 208.04 783.38 208.04H783.06C781.24 208.04 779.76 206.56 779.76 204.74V201.43C779.76 199.61 778.29 198.13 776.46 198.13H776.14C774.32 198.13 772.84 199.61 772.84 201.43V205.13C772.84 206.95 771.36 208.43 769.54 208.43H769.22C767.4 208.43 765.92 206.95 765.92 205.13V202.06C765.92 200.24 764.44 198.76 762.62 198.76H762.3C757.85 198.76 760.15 198.44 755.7 198.44H755.38C750.92 198.44 753.23 198.6 748.78 198.6H748.46C744 198.6 746.31 198.76 741.86 198.76H741.54C737.08 198.76 739.39 199.08 734.94 199.08H734.62C732.79 199.08 731.32 200.56 731.32 202.38V205.53C731.32 207.35 729.84 208.83 728.02 208.83H727.69C723.24 208.83 725.55 209.23 721.09 209.23H720.77C716.32 209.23 718.63 208.83 714.17 208.83H713.85C709.4 208.83 711.71 211.6 707.25 211.6H706.93C702.48 211.6 704.79 212 700.33 212H700.01C698.19 212 696.71 213.48 696.71 215.3V217.66C696.71 219.48 695.23 220.96 693.41 220.96H693.09C691.27 220.96 689.79 219.48 689.79 217.66V211.34C689.79 209.52 688.31 208.04 686.49 208.04H686.17C681.71 208.04 684.02 207.24 679.57 207.24H679.25C674.79 207.24 677.1 205.26 672.65 205.26H672.33C667.87 205.26 670.18 202.49 665.73 202.49H665.41C660.95 202.49 663.26 199.95 658.81 199.95H651.56C647.11 199.95 649.42 203.68 644.96 203.68H644.64C640.19 203.68 642.5 201.69 638.04 201.69H637.72C633.27 201.69 635.58 199.71 631.12 199.71H630.8C628.98 199.71 627.5 201.19 627.5 203.01V214.25C627.5 216.07 626.02 217.55 624.2 217.55H623.88C622.06 217.55 620.58 216.07 620.58 214.25V199.84C620.58 198.02 619.1 196.54 617.28 196.54H616.96C612.5 196.54 614.81 195.75 610.36 195.75H610.04C608.21 195.75 606.74 197.23 606.74 199.05V209.49C606.74 211.31 605.26 212.79 603.44 212.79H603.12C598.66 212.79 600.97 206.23 596.52 206.23H596.19C591.74 206.23 594.05 204.25 589.59 204.25H582.35C580.53 204.25 579.05 202.77 579.05 200.95V195.66C579.05 193.84 577.58 192.36 575.75 192.36H575.43C573.61 192.36 572.13 193.84 572.13 195.66V218.39C572.13 220.21 570.65 221.69 568.83 221.69H568.51C566.69 221.69 565.21 223.17 565.21 224.99V234.65C565.21 236.47 563.73 237.95 561.91 237.95H561.59C559.77 237.95 558.29 239.43 558.29 241.25V242.18C558.29 244 556.81 245.48 554.99 245.48H554.67C550.21 245.48 552.52 239.37 548.07 239.37H547.75C543.29 239.37 545.6 239.14 541.15 239.14H540.83C536.37 239.14 538.68 235.97 534.23 235.97H533.91C532.08 235.97 530.61 237.45 530.61 239.27V254.07C530.61 255.89 529.13 257.37 527.31 257.37H526.98C522.53 257.37 524.84 253.8 520.38 253.8H520.06C515.61 253.8 517.92 251.42 513.46 251.42H513.14C508.69 251.42 511 249.05 506.54 249.05H506.22C501.77 249.05 504.08 242.55 499.62 242.55H499.3C494.85 242.55 497.15 247.86 492.7 247.86H492.38C490.56 247.86 489.08 246.38 489.08 244.56V243.23C489.08 241.41 487.6 239.93 485.78 239.93H485.46C481 239.93 483.31 242.86 478.86 242.86H478.54C474.08 242.86 476.39 238.45 471.94 238.45H471.62C467.16 238.45 469.47 237.81 465.02 237.81H464.69C460.24 237.81 462.55 233.85 458.09 233.85H457.77C455.95 233.85 454.47 232.37 454.47 230.55V222.08C454.47 220.26 453 218.78 451.17 218.78H450.85C446.4 218.78 448.71 214.66 444.25 214.66H443.93C439.48 214.66 441.79 218.78 437.33 218.78H437.01C432.56 218.78 434.87 222.35 430.41 222.35H430.09C428.27 222.35 426.79 223.83 426.79 225.65V233.72C426.79 235.54 425.31 237.02 423.49 237.02H423.17C421.35 237.02 419.87 235.54 419.87 233.72V228.82C419.87 227 418.39 225.52 416.57 225.52H416.25C411.79 225.52 414.1 221.56 409.65 221.56H409.33C407.5 221.56 406.03 220.08 406.03 218.26V209.24C406.03 207.42 404.55 205.94 402.73 205.94H402.41C397.95 205.94 400.26 207.68 395.81 207.68H395.48C391.03 207.68 393.34 210.06 388.88 210.06H388.56C384.11 210.06 386.42 213.63 381.96 213.63H381.64C379.82 213.63 378.34 215.11 378.34 216.93V246.8C378.34 248.62 376.86 250.1 375.04 250.1H374.72C370.27 250.1 372.58 253.27 368.12 253.27H367.8C363.35 253.27 365.65 247.33 361.2 247.33H360.88C356.42 247.33 358.73 244.15 354.28 244.15H353.96C349.5 244.15 351.81 245.86 347.36 245.86H347.04C342.58 245.86 344.89 247.28 340.44 247.28H340.12C335.66 247.28 337.97 245.46 333.52 245.46H312.43C307.98 245.46 310.29 246.49 305.83 246.49H305.51C301.06 246.49 303.37 246.65 298.91 246.65H298.59C294.13 246.65 296.44 246.49 291.99 246.49H291.67C287.21 246.49 289.52 245.86 285.07 245.86H284.75C282.92 245.86 281.45 247.34 281.45 249.16V286.56C281.45 288.38 279.97 289.86 278.15 289.86H277.83C273.37 289.86 275.68 287.72 271.23 287.72H270.91C266.45 287.72 268.76 287.88 264.31 287.88H263.98C259.53 287.88 261.84 283.12 257.38 283.12H257.06C252.61 283.12 254.92 280.74 250.46 280.74H250.14C245.69 280.74 248 276.93 243.54 276.93H243.22C238.77 276.93 241.08 276.78 236.62 276.78H229.38C224.92 276.78 227.23 276.93 222.78 276.93H222.46C218 276.93 220.31 277.41 215.86 277.41H208.62C204.16 277.41 206.47 276.78 202.02 276.78H201.69C199.87 276.78 198.39 275.3 198.39 273.48V269.93C198.39 268.11 196.92 266.63 195.09 266.63H194.77C190.32 266.63 192.63 267.9 188.17 267.9H187.85C186.03 267.9 184.55 269.38 184.55 271.2V274.27C184.55 276.09 183.08 277.57 181.25 277.57H180.93C176.48 277.57 178.79 278.52 174.33 278.52H174.01C169.56 278.52 171.87 277.57 167.41 277.57H167.09C165.27 277.57 163.79 276.09 163.79 274.27V256.85C163.79 255.03 162.31 253.55 160.49 253.55H132.48C128.03 253.55 130.34 251.25 125.88 251.25H125.56C121.11 251.25 123.42 249.42 118.96 249.42H118.64C114.19 249.42 116.5 247.28 112.04 247.28H111.72C107.27 247.28 109.58 245.86 105.12 245.86H101.9Z" fill="#f00" fill-opacity="0.3"/>
</g>
<rect x="101" y="736" width="1447" height="2" fill="#1d1a3e"/>
<g class="lines" fill="none" stroke-width="4.0" stroke-linejoin="round" stroke-linecap="butt">

<path d="M101.9 245.86H105.12C109.58 245.86 107.27 247.28 111.72 247.28H112.04C116.5 247.28 114.19 249.42 118.64 249.42H118.96C123.42 249.42 121.11 251.25 125.56 251.25H125.88C130.34 251.25 128.03 253.55 132.48 253.55H160.49C162.31 253.55 163.79 255.03 163.79 256.85V274.27C163.79 276.09 165.27 277.57 167.09 277.57H167.41C171.87 277.57 169.56 278.52 174.01 278.52H174.33C178.79 278.52 176.48 277.57 180.93 277.57H181.25C183.08 277.57 184.55 276.09 184.55 274.27V271.2C184.55 269.38 186.03 267.9 187.85 267.9H188.17C192.63 267.9 190.32 266.63 194.77 266.63H195.09C196.92 266.63 198.39 268.11 198.39 269.93V273.48C198.39 275.3 199.87 276.78 201.69 276.78H202.02C206.47 276.78 204.16 277.41 208.62 277.41H215.86C220.31 277.41 218 276.93 222.46 276.93H222.78C227.23 276.93 224.92 276.78 229.38 276.78H236.62C241.08 276.78 238.77 276.93 243.22 276.93H243.54C248 276.93 245.69 280.74 250.14 280.74H250.46C254.92 280.74 252.61 283.12 257.06 283.12H257.38C261.84 283.12 259.53 287.88 263.98 287.88H264.31C268.76 287.88 266.45 287.72 270.91 287.72H271.23C275.68 287.72 273.37 289.86 277.83 289.86H278.15C279.97 289.86 281.45 288.38 281.45 286.56V249.16C281.45 247.34 282.92 245.86 284.75 245.86H285.07C289.52 245.86 287.21 246.49 291.67 246.49H291.99C296.44 246.49 294.13 246.65 298.59 246.65H298.91C303.37 246.65 301.06 246.49 305.51 246.49H305.83C310.29 246.49 307.98 245.46 312.43 245.46H333.52C337.97 245.46 335.66 247.28 340.12 247.28H340.44C344.89 247.28 342.58 245.86 347.04 245.86H347.36C351.81 245.86 349.5 244.15 353.96 244.15H354.28C358.73 244.15 356.42 247.33 360.88 247.33H361.2C365.65 247.33 363.35 253.27 367.8 253.27H368.12C372.58 253.27 370.27 250.1 374.72 250.1H375.04C376.86 250.1 378.34 248.62 378.34 246.8V216.93C378.34 215.11 379.82 213.63 381.64 213.63H381.96C386.42 213.63 384.11 210.06 388.56 210.06H388.88C393.34 210.06 391.03 207.68 395.48 207.68H395.81C400.26 207.68 397.95 205.94 402.41 205.94H402.73C404.55 205.94 406.03 207.42 406.03 209.24V218.26C406.03 220.08 407.5 221.56 409.33 221.56H409.65C414.1 221.56 411.79 225.52 416.25 225.52H416.57C418.39 225.52 419.87 227 419.87 228.82V233.72C419.87 235.54 421.35 237.02 423.17 237.02H423.49C425.31 237.02 426.79 235.54 426.79 233.72V225.65C426.79 223.83 428.27 222.35 430.09 222.35H430.41C434.87 222.35 432.56 218.78 437.01 218.78H437.33C441.79 218.78 439.48 214.66 443.93 214.66H444.25C448.71 214.66 446.4 218.78 450.85 218.78H451.17C453 218.78 454.47 220.26 454.47 222.08V230.55C454.47 232.37 455.95 233.85 457.77 233.85H458.09C462.55 233.85 460.24 237.81 464.69 237.81H465.02C469.47 237.81 467.16 238.45 471.62 238.45H471.94C476.39 238.45 474.08 242.86 478.54 242.86H478.86C483.31 242.86 481 239.93 485.46 239.93H485.78C487.6 239.93 489.08 241.41 489.08 243.23V244.56C489.08 246.38 490.56 247.86 492.38 247.86H492.7C497.15 247.86 494.85 242.55 499.3 242.55H499.62C504.08 242.55 501.77 249.05 506.22 249.05H506.54C511 249.05 508.69 251.42 513.14 251.42H513.46C517.92 251.42 515.61 253.8 520.06 253.8H520.38C524.84 253.8 522.53 257.37 526.98 257.37H527.31C529.13 257.37 530.61 255.89 530.61 254.07V239.27C530.61 237.45 532.08 235.97 533.91 235.97H534.23C538.68 235.97 536.37 239.14 540.83 239.14H541.15C545.6 239.14 543.29 239.37 547.75 239.37H548.07C552.52 239.37 550.21 245.48 554.67 245.48H554.99C556.81 245.48 558.29 244 558.29 242.18V241.25C558.29 239.43 559.77 237.95 561.59 237.95H561.91C563.73 237.95 565.21 236.47 565.21 234.65V224.99C565.21 223.17 566.69 221.69 568.51 221.69H568.83C570.65 221.69 572.13 220.21 572.13 218.39V195.66C572.13 193.84 573.61 192.36 575.43 192.36H575.75C577.58 192.36 579.05 193.84 579.05 195.66V200.95C579.05 202.77 580.53 204.25 582.35 204.25H589.59C594.05 204.25 591.74 206.23 596.19 206.23H596.52C600.97 206.23 598.66 212.79 603.12 212.79H603.44C605.26 212.79 606.74 211.31 606.74 209.49V199.05C606.74 197.23 608.21 195.75 610.04 195.75H610.36C614.81 195.75 612.5 196.54 616.96 196.54H617.28C619.1 196.54 620.58 198.02 620.58 199.84V214.25C620.58 216.07 622.06 217.55 623.88 217.55H624.2C626.02 217.55 627.5 216.07 627.5 214.25V203.01C627.5 201.19 628.98 199.71 630.8 199.71H631.12C635.58 199.71 633.27 201.69 637.72 201.69H638.04C642.5 201.69 640.19 203.68 644.64 203.68H644.96C649.42 203.68 647.11 199.95 651.56 199.95H658.81C663.26 199.95 660.95 202.49 665.41 202.49H665.73C670.18 202.49 667.87 205.26 672.33 205.26H672.65C677.1 205.26 674.79 207.24 679.25 207.24H679.57C684.02 207.24 681.71 208.04 686.17 208.04H686.49C688.31 208.04 689.79 209.52 689.79 211.34V217.66C689.79 219.48 691.27 220.96 693.09 220.96H693.41C695.23 220.96 696.71 219.48 696.71 217.66V215.3C696.71 213.48 698.19 212 700.01 212H700.33C704.79 212 702.48 211.6 706.93 211.6H707.25C711.71 211.6 709.4 208.83 713.85 208.83H714.17C718.63 208.83 716.32 209.23 720.77 209.23H721.09C725.55 209.23 723.24 208.83 727.69 208.83H728.02C729.84 208.83 731.32 207.35 731.32 205.53V202.38C731.32 200.56 732.79 199.08 734.62 199.08H734.94C739.39 199.08 737.08 198.76 741.54 198.76H741.86C746.31 198.76 744 198.6 748.46 198.6H748.78C753.23 198.6 750.92 198.44 755.38 198.44H755.7C760.15 198.44 757.85 198.76 762.3 198.76H762.62C764.44 198.76 765.92 200.24 765.92 202.06V205.13C765.92 206.95 767.4 208.43 769.22 208.43H769.54C771.36 208.43 772.84 206.95 772.84 205.13V201.43C772.84 199.61 774.32 198.13 776.14 198.13H776.46C778.29 198.13 779.76 199.61 779.76 201.43V204.74C779.76 206.56 781.24 208.04 783.06 208.04H783.38C785.21 208.04 786.68 206.56 786.68 204.74V201.03C786.68 199.21 788.16 197.73 789.98 197.73H790.31C794.76 197.73 792.45 196.94 796.91 196.94H797.23C801.68 196.94 799.37 196.14 803.83 196.14H804.15C808.6 196.14 806.29 194.96 810.75 194.96H811.07C815.52 194.96 813.21 193.77 817.67 193.77H817.99C819.81 193.77 821.29 192.29 821.29 190.47V182.8C821.29 180.98 822.77 179.5 824.59 179.5H838.75C843.21 179.5 840.9 179.73 845.35 179.73H845.67C850.13 179.73 847.82 180.05 852.27 180.05H873.36C877.81 180.05 875.5 180.13 879.96 180.13H894.12C898.58 180.13 896.27 180.21 900.72 180.21H921.81C926.26 180.21 923.95 183.06 928.41 183.06H928.73C933.18 183.06 930.87 183.22 935.33 183.22H935.65C940.1 183.22 937.79 185.28 942.25 185.28H942.57C947.02 185.28 944.71 185.44 949.17 185.44H949.49C951.31 185.44 952.79 186.92 952.79 188.74V256.91C952.79 258.73 954.27 260.21 956.09 260.21H956.41C958.23 260.21 959.71 261.69 959.71 263.51V281.25C959.71 283.07 961.19 284.55 963.01 284.55H963.33C967.79 284.55 965.48 279.24 969.93 279.24H970.25C974.71 279.24 972.4 273.45 976.85 273.45H977.17C981.63 273.45 979.32 273.05 983.77 273.05H984.09C988.55 273.05 986.24 269.88 990.69 269.88H991.02C995.47 269.88 993.16 269.49 997.62 269.49H997.94C1002.39 269.49 1000.08 268.3 1004.54 268.3H1004.86C1009.31 268.3 1007 270.68 1011.46 270.68H1011.78C1016.23 270.68 1013.92 271.63 1018.38 271.63H1018.7C1023.15 271.63 1020.85 273.05 1025.3 273.05H1025.62C1030.08 273.05 1027.77 277.81 1032.22 277.81H1032.54C1034.36 277.81 1035.84 279.29 1035.84 281.11V282.44C1035.84 284.26 1037.32 285.74 1039.14 285.74H1039.46C1041.29 285.74 1042.76 287.22 1042.76 289.04V291.56C1042.76 293.38 1044.24 294.86 1046.06 294.86H1046.38C1050.84 294.86 1048.53 297.63 1052.98 297.63H1053.31C1057.76 297.63 1055.45 298.03 1059.91 298.03H1060.23C1064.68 298.03 1062.37 297.48 1066.83 297.48H1067.15C1071.6 297.48 1069.29 297.08 1073.75 297.08H1080.99C1085.44 297.08 1083.13 296.69 1087.59 296.69H1094.83C1099.29 296.69 1096.98 296.29 1101.43 296.29H1108.67C1113.13 296.29 1110.82 295.89 1115.27 295.89H1115.59C1120.05 295.89 1117.74 295.5 1122.19 295.5H1122.52C1126.97 295.5 1124.66 291.53 1129.12 291.53H1129.44C1133.89 291.53 1131.58 291.69 1136.04 291.69H1136.36C1140.81 291.69 1138.5 293.91 1142.96 293.91H1143.28C1147.73 293.91 1145.42 294.31 1149.88 294.31H1150.2C1154.65 294.31 1152.35 292.72 1156.8 292.72H1157.12C1161.58 292.72 1159.27 290.74 1163.72 290.74H1164.04C1168.5 290.74 1166.19 286.78 1170.64 286.78H1170.96C1175.42 286.78 1173.11 283.21 1177.56 283.21H1177.88C1182.34 283.21 1180.03 278.91 1184.48 278.91H1184.81C1189.26 278.91 1186.95 275.74 1191.41 275.74H1191.73C1196.18 275.74 1193.87 272.57 1198.33 272.57H1198.65C1203.1 272.57 1200.79 269.79 1205.25 269.79H1205.57C1210.02 269.79 1207.71 268.21 1212.17 268.21H1212.49C1216.94 268.21 1214.63 269.24 1219.09 269.24H1219.41C1221.23 269.24 1222.71 267.76 1222.71 265.94V265.56C1222.71 263.74 1224.19 262.26 1226.01 262.26H1226.33C1228.15 262.26 1229.63 260.78 1229.63 258.96V258.43C1229.63 256.61 1231.11 255.13 1232.93 255.13H1233.25C1237.71 255.13 1235.4 254.97 1239.85 254.97H1247.09C1251.55 254.97 1249.24 257.9 1253.69 257.9H1254.02C1258.47 257.9 1256.16 259.09 1260.62 259.09H1260.94C1265.39 259.09 1263.08 259.25 1267.54 259.25H1267.86C1272.31 259.25 1270 259.49 1274.46 259.49H1274.78C1279.23 259.49 1276.92 265.04 1281.38 265.04H1281.7C1283.52 265.04 1285 266.52 1285 268.34V270.06C1285 271.88 1286.48 273.36 1288.3 273.36H1288.62C1293.08 273.36 1290.77 276.44 1295.22 276.44H1295.54C1297.36 276.44 1298.84 274.96 1298.84 273.14V271.81C1298.84 269.99 1300.32 268.51 1302.14 268.51H1302.46C1306.92 268.51 1304.61 274.46 1309.06 274.46H1316.31C1318.13 274.46 1319.61 272.98 1319.61 271.16V265.47C1319.61 263.65 1321.08 262.17 1322.91 262.17H1323.23C1327.68 262.17 1325.37 263.76 1329.83 263.76H1330.15C1334.6 263.76 1332.29 266.14 1336.75 266.14H1337.07C1338.89 266.14 1340.37 264.66 1340.37 262.84V229.35C1340.37 227.53 1341.85 226.05 1343.67 226.05H1343.99C1348.44 226.05 1346.13 225.65 1350.59 225.65H1350.91C1352.73 225.65 1354.21 224.17 1354.21 222.35V187.72C1354.21 185.9 1355.69 184.42 1357.51 184.42H1357.83C1362.29 184.42 1359.98 184.03 1364.43 184.03H1364.75C1369.21 184.03 1366.9 185.22 1371.35 185.22H1371.67C1376.13 185.22 1373.82 184.03 1378.27 184.03H1378.59C1380.42 184.03 1381.89 182.55 1381.89 180.73V177.42C1381.89 175.6 1383.37 174.12 1385.19 174.12H1548" stroke="#ff0"/>
<path d="M101.9 671.84H105.12C106.94 671.84 108.42 670.36 108.42 668.54V658.89C108.42 657.07 109.9 655.59 111.72 655.59H112.04C113.86 655.59 115.34 654.11 115.34 652.29V652.15C115.34 650.33 116.82 648.85 118.64 648.85H118.96C120.79 648.85 122.26 647.37 122.26 645.55V640.26C122.26 638.44 123.74 636.96 125.56 636.96H125.88C127.71 636.96 129.18 638.44 129.18 640.26V645.55C129.18 647.37 130.66 648.85 132.48 648.85H132.81C137.26 648.85 134.95 649.01 139.41 649.01H139.73C144.18 649.01 141.87 649.24 146.33 649.24H146.65C151.1 649.24 148.79 651.62 153.25 651.62H153.57C155.39 651.62 156.87 650.14 156.87 648.32V631.93C156.87 630.11 158.35 628.63 160.17 628.63H160.49C162.31 628.63 163.79 630.11 163.79 631.93V638.41C163.79 640.23 165.27 641.71 167.09 641.71H167.41C169.23 641.71 170.71 643.19 170.71 645.01V657.04C170.71 658.86 172.19 660.34 174.01 660.34H174.33C176.15 660.34 177.63 658.86 177.63 657.04V640.26C177.63 638.44 179.11 636.96 180.93 636.96H181.25C185.71 636.96 183.4 633.78 187.85 633.78H188.17C190 633.78 191.47 632.3 191.47 630.48V630.35C191.47 628.53 192.95 627.05 194.77 627.05H195.09C199.55 627.05 197.24 629.42 201.69 629.42H202.02C203.84 629.42 205.32 630.9 205.32 632.72V645.55C205.32 647.37 206.79 648.85 208.62 648.85H208.94C213.39 648.85 211.08 651.23 215.54 651.23H215.86C220.31 651.23 218 651.07 222.46 651.07H222.78C227.23 651.07 224.92 650.06 229.38 650.06H229.7C234.16 650.06 231.84 652.84 236.3 652.84H236.62C241.08 652.84 238.77 653.23 243.22 653.23H243.54C245.36 653.23 246.84 651.75 246.84 649.93V639.49C246.84 637.67 248.32 636.19 250.14 636.19H250.46C252.29 636.19 253.76 637.67 253.76 639.49V650.33C253.76 652.15 255.24 653.63 257.06 653.63H257.38C259.21 653.63 260.68 655.11 260.68 656.93V686.01C260.68 687.83 262.16 689.31 263.98 689.31H264.31C268.76 689.31 266.45 691.29 270.91 691.29H271.23C275.68 691.29 273.37 689.15 277.83 689.15H278.15C279.97 689.15 281.45 690.63 281.45 692.45V696.31C281.45 698.13 282.92 699.61 284.75 699.61H285.07C289.52 699.61 287.21 705.96 291.67 705.96H291.99C296.44 705.96 294.13 703.58 298.59 703.58H298.91C303.37 703.58 301.06 699.61 305.51 699.61H305.83C310.29 699.61 307.98 695.25 312.43 695.25H312.75C317.21 695.25 314.9 697.63 319.35 697.63H319.67C324.13 697.63 321.82 694.86 326.27 694.86H333.52C337.97 694.86 335.66 694.46 340.12 694.46H340.44C344.89 694.46 342.58 692.48 347.04 692.48H347.36C351.81 692.48 349.5 689.95 353.96 689.95H354.28C358.73 689.95 356.42 688.36 360.88 688.36H361.2C365.65 688.36 363.35 690.74 367.8 690.74H368.12C372.58 690.74 370.27 694.7 374.72 694.7H375.04C376.86 694.7 378.34 696.18 378.34 698V698.14C378.34 699.96 379.82 701.44 381.64 701.44H381.96C383.79 701.44 385.26 699.96 385.26 698.14V696.42C385.26 694.6 386.74 693.12 388.56 693.12H388.88C393.34 693.12 391.03 695.5 395.48 695.5H395.81C400.26 695.5 397.95 698.51 402.41 698.51H402.73C404.55 698.51 406.03 697.03 406.03 695.21V694.04C406.03 692.22 407.5 690.74 409.33 690.74H409.65C414.1 690.74 411.79 692.72 416.25 692.72H416.57C421.02 692.72 418.71 693.51 423.17 693.51H423.49C427.94 693.51 425.63 695.1 430.09 695.1H430.41C434.87 695.1 432.56 696.69 437.01 696.69H437.33C439.15 696.69 440.63 695.21 440.63 693.39V685.72C440.63 683.9 442.11 682.42 443.93 682.42H444.25C446.08 682.42 447.55 680.94 447.55 679.12V671.44C447.55 669.62 449.03 668.14 450.85 668.14H451.17C455.63 668.14 453.32 674.49 457.77 674.49H458.09C459.92 674.49 461.39 675.97 461.39 677.79V683.87C461.39 685.69 462.87 687.17 464.69 687.17H465.02C466.84 687.17 468.32 685.69 468.32 683.87V683.57C468.32 681.75 469.79 680.27 471.62 680.27H471.94C476.39 680.27 474.08 681.14 478.54 681.14H478.86C480.68 681.14 482.16 682.62 482.16 684.44V694.49C482.16 696.31 483.64 697.79 485.46 697.79H485.78C490.23 697.79 487.92 693.03 492.38 693.03H492.7C497.15 693.03 494.85 690.25 499.3 690.25H499.62C501.44 690.25 502.92 688.77 502.92 686.95V682.06C502.92 680.24 504.4 678.76 506.22 678.76H506.54C511 678.76 508.69 677.57 513.14 677.57H513.46C515.29 677.57 516.76 676.09 516.76 674.27V673.73C516.76 671.91 518.24 670.43 520.06 670.43H520.38C522.21 670.43 523.68 668.95 523.68 667.13V665.01C523.68 663.19 525.16 661.71 526.98 661.71H527.31C529.13 661.71 530.61 660.23 530.61 658.41V652.33C530.61 650.51 532.08 649.03 533.91 649.03H534.23C536.05 649.03 537.53 647.55 537.53 645.73V645.19C537.53 643.37 539 641.89 540.83 641.89H541.15C545.6 641.89 543.29 641.5 547.75 641.5H548.07C552.52 641.5 550.21 640.31 554.67 640.31H554.99C559.44 640.31 557.13 641.89 561.59 641.89H561.91C563.73 641.89 565.21 643.37 565.21 645.19V649.69C565.21 651.51 566.69 652.99 568.51 652.99H568.83C573.29 652.99 570.98 659.33 575.43 659.33H575.75C580.21 659.33 577.9 656.56 582.35 656.56H582.67C587.13 656.56 584.82 650.61 589.27 650.61H589.59C594.05 650.61 591.74 649.03 596.19 649.03H596.52C600.97 649.03 598.66 642.51 603.12 642.51H603.44C607.89 642.51 605.58 643.69 610.04 643.69H610.36C614.81 643.69 612.5 639.33 616.96 639.33H617.28C619.1 639.33 620.58 640.81 620.58 642.63V656.25C620.58 658.07 622.06 659.55 623.88 659.55H624.2C626.02 659.55 627.5 661.03 627.5 662.85V665.37C627.5 667.19 628.98 668.67 630.8 668.67H631.12C632.94 668.67 634.42 667.19 634.42 665.37V658.49C634.42 656.67 635.9 655.19 637.72 655.19H638.04C639.86 655.19 641.34 656.67 641.34 658.49V661.01C641.34 662.83 642.82 664.31 644.64 664.31H644.96C646.79 664.31 648.26 662.83 648.26 661.01V656.11C648.26 654.29 649.74 652.81 651.56 652.81H651.88C656.34 652.81 654.03 654.4 658.48 654.4H658.81C663.26 654.4 660.95 650.04 665.41 650.04H665.73C670.18 650.04 667.87 643.69 672.33 643.69H672.65C677.1 643.69 674.79 638.94 679.25 638.94H679.57C684.02 638.94 681.71 636.96 686.17 636.96H686.49C690.94 636.96 688.63 632.6 693.09 632.6H693.41C697.87 632.6 695.56 630.61 700.01 630.61H700.33C704.79 630.61 702.48 629.42 706.93 629.42H707.25C711.71 629.42 709.4 623.48 713.85 623.48H714.17C718.63 623.48 716.32 622.68 720.77 622.68H721.09C722.92 622.68 724.39 621.2 724.39 619.38V589.35C724.39 587.53 725.87 586.05 727.69 586.05H728.02C732.47 586.05 730.16 584.62 734.62 584.62H741.86C746.31 584.62 744 584.46 748.46 584.46H748.78C750.6 584.46 752.08 582.98 752.08 581.16V578.64C752.08 576.82 753.56 575.34 755.38 575.34H755.7C760.15 575.34 757.85 573.52 762.3 573.52H762.62C764.44 573.52 765.92 575 765.92 576.82V579.97C765.92 581.79 767.4 583.27 769.22 583.27H769.54C774 583.27 771.69 584.06 776.14 584.06H776.46C778.29 584.06 779.76 582.58 779.76 580.76V574.68C779.76 572.86 781.24 571.38 783.06 571.38H783.38C785.21 571.38 786.68 569.9 786.68 568.08V563.58C786.68 561.76 788.16 560.28 789.98 560.28H790.31C794.76 560.28 792.45 561.87 796.91 561.87H797.23C799.05 561.87 800.53 560.39 800.53 558.57V552.08C800.53 550.26 802 548.78 803.83 548.78H804.15C808.6 548.78 806.29 549.58 810.75 549.58H811.07C812.89 549.58 814.37 548.1 814.37 546.28V535.04C814.37 533.22 815.85 531.74 817.67 531.74H817.99C819.81 531.74 821.29 533.22 821.29 535.04V569.27C821.29 571.09 822.77 572.57 824.59 572.57H824.91C829.37 572.57 827.06 576.14 831.51 576.14H831.83C836.29 576.14 833.98 574.55 838.43 574.55H838.75C840.58 574.55 842.05 573.07 842.05 571.25V554.46C842.05 552.64 843.53 551.16 845.35 551.16H845.67C847.5 551.16 848.97 549.68 848.97 547.86V536.72C848.97 534.9 850.45 533.42 852.27 533.42H852.59C857.05 533.42 854.74 529.86 859.19 529.86H859.52C861.34 529.86 862.82 528.38 862.82 526.56V464.37C862.82 462.55 864.29 461.07 866.12 461.07H866.44C870.89 461.07 868.58 467.42 873.04 467.42H873.36C877.81 467.42 875.5 470.59 879.96 470.59H880.28C884.73 470.59 882.42 475.74 886.88 475.74H887.2C891.65 475.74 889.35 478.51 893.8 478.51H894.12C898.58 478.51 896.27 480.5 900.72 480.5H901.04C905.5 480.5 903.19 482.48 907.64 482.48H907.96C912.42 482.48 910.11 483.27 914.56 483.27H914.88C919.34 483.27 917.03 487.24 921.48 487.24H921.81C926.26 487.24 923.95 488.82 928.41 488.82H928.73C933.18 488.82 930.87 490.01 935.33 490.01H935.65C937.47 490.01 938.95 488.53 938.95 486.71V337.42C938.95 335.6 940.42 334.12 942.25 334.12H942.57C944.39 334.12 945.87 335.6 945.87 337.42V356.98C945.87 358.8 947.35 360.28 949.17 360.28H949.49C953.94 360.28 951.63 360.68 956.09 360.68H956.41C958.23 360.68 959.71 362.16 959.71 363.98V384.33C959.71 386.15 961.19 387.63 963.01 387.63H963.33C965.15 387.63 966.63 386.15 966.63 384.33V383C966.63 381.18 968.11 379.7 969.93 379.7H970.25C972.08 379.7 973.55 378.22 973.55 376.4V367.15C973.55 365.33 975.03 363.85 976.85 363.85H977.17C979 363.85 980.47 362.37 980.47 360.55V356.84C980.47 355.02 981.95 353.54 983.77 353.54H984.09C985.92 353.54 987.39 352.06 987.39 350.24V350.1C987.39 348.28 988.87 346.8 990.69 346.8H991.02C995.47 346.8 993.16 346.01 997.62 346.01H997.94C1002.39 346.01 1000.08 343.63 1004.54 343.63H1004.86C1009.31 343.63 1007 347.99 1011.46 347.99H1011.78C1013.6 347.99 1015.08 349.47 1015.08 351.29V402.39C1015.08 404.21 1016.56 405.69 1018.38 405.69H1018.7C1020.52 405.69 1022 404.21 1022 402.39V400.82C1022 399 1023.48 397.52 1025.3 397.52H1025.62C1027.44 397.52 1028.92 399 1028.92 400.82V402.77C1028.92 404.59 1030.4 406.07 1032.22 406.07H1032.54C1034.36 406.07 1035.84 407.55 1035.84 409.37V421.64C1035.84 423.46 1037.32 424.94 1039.14 424.94H1039.46C1041.29 424.94 1042.76 426.42 1042.76 428.24V434.84C1042.76 436.66 1044.24 438.14 1046.06 438.14H1046.38C1050.84 438.14 1048.53 442.17 1052.98 442.17H1053.31C1055.13 442.17 1056.61 440.69 1056.61 438.87V361.07C1056.61 359.25 1058.08 357.77 1059.91 357.77H1060.23C1064.68 357.77 1062.37 357.52 1066.83 357.52H1067.15C1071.6 357.52 1069.29 355.5 1073.75 355.5H1074.07C1078.52 355.5 1076.21 355.25 1080.67 355.25H1080.99C1085.44 355.25 1083.13 354.87 1087.59 354.87H1087.91C1092.37 354.87 1090.06 353.11 1094.51 353.11H1094.83C1099.29 353.11 1096.98 352.86 1101.43 352.86H1101.75C1106.21 352.86 1103.9 352.11 1108.35 352.11H1108.67C1113.13 352.11 1110.82 351.98 1115.27 351.98H1115.59C1120.05 351.98 1117.74 351.86 1122.19 351.86H1122.52C1126.97 351.86 1124.66 346.95 1129.12 346.95H1136.36C1140.81 346.95 1138.5 348.21 1142.96 348.21H1143.28C1147.73 348.21 1145.42 348.58 1149.88 348.58H1150.2C1152.02 348.58 1153.5 347.1 1153.5 345.28V338.95C1153.5 337.13 1154.98 335.65 1156.8 335.65H1157.12C1158.94 335.65 1160.42 334.17 1160.42 332.35V327.06C1160.42 325.24 1161.9 323.76 1163.72 323.76H1164.04C1168.5 323.76 1166.19 319.4 1170.64 319.4H1170.96C1175.42 319.4 1173.11 324.15 1177.56 324.15H1177.88C1182.34 324.15 1180.03 322.97 1184.48 322.97H1184.81C1189.26 322.97 1186.95 318.6 1191.41 318.6H1191.73C1196.18 318.6 1193.87 314.24 1198.33 314.24H1198.65C1203.1 314.24 1200.79 311.47 1205.25 311.47H1205.57C1210.02 311.47 1207.71 311.07 1212.17 311.07H1212.49C1216.94 311.07 1214.63 314.64 1219.09 314.64H1219.41C1221.23 314.64 1222.71 313.16 1222.71 311.34V305.26C1222.71 303.44 1224.19 301.96 1226.01 301.96H1226.33C1228.15 301.96 1229.63 300.48 1229.63 298.66V293.76C1229.63 291.94 1231.11 290.46 1232.93 290.46H1233.25C1237.71 290.46 1235.4 285.7 1239.85 285.7H1240.17C1244.63 285.7 1242.32 284.51 1246.77 284.51H1247.09C1251.55 284.51 1249.24 286.89 1253.69 286.89H1254.02C1258.47 286.89 1256.16 288.48 1260.62 288.48H1260.94C1265.39 288.48 1263.08 291.65 1267.54 291.65H1267.86C1272.31 291.65 1270 286.74 1274.46 286.74H1274.78C1279.23 286.74 1276.92 293.08 1281.38 293.08H1281.7C1283.52 293.08 1285 294.56 1285 296.38V307.22C1285 309.04 1286.48 310.52 1288.3 310.52H1288.62C1293.08 310.52 1290.77 313.3 1295.22 313.3H1295.54C1300 313.3 1297.69 314.49 1302.14 314.49H1302.46C1304.29 314.49 1305.76 315.97 1305.76 317.79V319.12C1305.76 320.94 1307.24 322.42 1309.06 322.42H1309.38C1313.84 322.42 1311.53 321.86 1315.98 321.86H1316.31C1318.13 321.86 1319.61 323.34 1319.61 325.16V332.2C1319.61 334.02 1321.08 335.5 1322.91 335.5H1323.23C1327.68 335.5 1325.37 341.44 1329.83 341.44H1330.15C1334.6 341.44 1332.29 344.61 1336.75 344.61H1337.07C1341.52 344.61 1339.21 344.85 1343.67 344.85H1343.99C1348.44 344.85 1346.13 346.6 1350.59 346.6H1350.91C1352.73 346.6 1354.21 345.12 1354.21 343.3V342.36C1354.21 340.54 1355.69 339.06 1357.51 339.06H1357.83C1359.65 339.06 1361.13 340.54 1361.13 342.36V427.5C1361.13 429.32 1362.61 430.8 1364.43 430.8H1364.75C1366.58 430.8 1368.05 429.32 1368.05 427.5V407.54C1368.05 405.72 1369.53 404.24 1371.35 404.24H1371.67C1376.13 404.24 1373.82 399.09 1378.27 399.09H1378.59C1380.42 399.09 1381.89 397.61 1381.89 395.79V381.38C1381.89 379.56 1383.37 378.08 1385.19 378.08H1385.52C1389.97 378.08 1387.66 376.1 1392.12 376.1H1392.44C1396.89 376.1 1394.58 377.29 1399.04 377.29H1399.36C1401.18 377.29 1402.66 375.81 1402.66 373.99V295.1C1402.66 293.28 1404.14 291.8 1405.96 291.8H1406.28C1410.73 291.8 1408.42 291.29 1412.88 291.29H1413.2C1417.65 291.29 1415.35 290.79 1419.8 290.79H1420.12C1421.94 290.79 1423.42 289.31 1423.42 287.49V263.12C1423.42 261.3 1424.9 259.82 1426.72 259.82H1427.04C1428.86 259.82 1430.34 258.34 1430.34 256.52V235.51C1430.34 233.69 1431.82 232.21 1433.64 232.21H1433.96C1438.42 232.21 1436.11 230.89 1440.56 230.89H1440.88C1442.71 230.89 1444.18 229.41 1444.18 227.59V223.33C1444.18 221.51 1445.66 220.03 1447.48 220.03H1447.81C1449.63 220.03 1451.11 221.51 1451.11 223.33V227.89C1451.11 229.71 1452.58 231.19 1454.41 231.19H1454.73C1459.18 231.19 1456.87 231.6 1461.33 231.6H1482.41C1484.23 231.6 1485.71 233.08 1485.71 234.9V235.2C1485.71 237.02 1487.19 238.5 1489.01 238.5H1489.33C1491.15 238.5 1492.63 239.98 1492.63 241.8V260.58C1492.63 262.4 1494.11 263.88 1495.93 263.88H1510.09C1514.55 263.88 1512.24 263.68 1516.69 263.68H1530.86C1535.31 263.68 1533 268.96 1537.46 268.96H1537.78C1542.23 268.96 1539.92 266.93 1544.38 266.93H1548" stroke="#00f"/>
</g>
<rect x="101.9" y="171.9" width="1446.1" height="1.3" fill="#b81e1e"/>
<rect x="101.9" y="173.2" width="1446.1" height="0.5" fill="#ff5a5a" fill-opacity="0.8"/>
<g class="yax" text-anchor="end">
<text transform="translate(88.7 178) scale(.977 1.045)">100%</text>
<text transform="translate(88.7 320) scale(.977 1.045)">75%</text>
<text transform="translate(88.7 462) scale(.977 1.045)">50%</text>
<text transform="translate(88.7 603.2) scale(.977 1.045)">25%</text>
<text transform="translate(88.7 744.4) scale(.977 1.045)">0%</text>
</g>
<g class="xax">
<text transform="translate(112.46 748.8) rotate(-90) scale(1.004 1.035)" text-anchor="end">2024-04-25</text>
<text transform="translate(140.15 748.8) rotate(-90) scale(1.004 1.035)" text-anchor="end">2024-04-29</text>
<text transform="translate(167.84 748.8) rotate(-90) scale(1.004 1.035)" text-anchor="end">2024-05-03</text>
<text transform="translate(195.54 748.8) rotate(-90) scale(1.004 1.035)" text-anchor="end">2024-05-07</text>
<text transform="translate(223.23 748.8) rotate(-90) scale(1.004 1.035)" text-anchor="end">2024-05-11</text>
<text transform="translate(250.92 748.8) rotate(-90) scale(1.004 1.035)" text-anchor="end">2024-05-15</text>
<text transform="translate(278.61 748.8) rotate(-90) scale(1.004 1.035)" text-anchor="end">2024-05-19</text>
<text transform="translate(306.3 748.8) rotate(-90) scale(1.004 1.035)" text-anchor="end">2024-05-23</text>
<text transform="translate(334 748.8) rotate(-90) scale(1.004 1.035)" text-anchor="end">2024-05-27</text>
<text transform="translate(361.69 748.8) rotate(-90) scale(1.004 1.035)" text-anchor="end">2024-05-31</text>
<text transform="translate(389.38 748.8) rotate(-90) scale(1.004 1.035)" text-anchor="end">2024-06-04</text>
<text transform="translate(417.07 748.8) rotate(-90) scale(1.004 1.035)" text-anchor="end">2024-06-08</text>
<text transform="translate(444.76 748.8) rotate(-90) scale(1.004 1.035)" text-anchor="end">2024-06-12</text>
<text transform="translate(472.46 748.8) rotate(-90) scale(1.004 1.035)" text-anchor="end">2024-06-16</text>
<text transform="translate(500.15 748.8) rotate(-90) scale(1.004 1.035)" text-anchor="end">2024-06-20</text>
<text transform="translate(527.84 748.8) rotate(-90) scale(1.004 1.035)" text-anchor="end">2024-06-24</text>
<text transform="translate(555.53 748.8) rotate(-90) scale(1.004 1.035)" text-anchor="end">2024-06-28</text>
<text transform="translate(583.22 748.8) rotate(-90) scale(1.004 1.035)" text-anchor="end">2024-07-02</text>
<text transform="translate(610.91 748.8) rotate(-90) scale(1.004 1.035)" text-anchor="end">2024-07-06</text>
<text transform="translate(638.61 748.8) rotate(-90) scale(1.004 1.035)" text-anchor="end">2024-07-10</text>
<text transform="translate(666.3 748.8) rotate(-90) scale(1.004 1.035)" text-anchor="end">2024-07-14</text>
<text transform="translate(693.99 748.8) rotate(-90) scale(1.004 1.035)" text-anchor="end">2024-07-18</text>
<text transform="translate(721.68 748.8) rotate(-90) scale(1.004 1.035)" text-anchor="end">2024-07-22</text>
<text transform="translate(749.37 748.8) rotate(-90) scale(1.004 1.035)" text-anchor="end">2024-07-26</text>
<text transform="translate(777.07 748.8) rotate(-90) scale(1.004 1.035)" text-anchor="end">2024-07-30</text>
<text transform="translate(804.76 748.8) rotate(-90) scale(1.004 1.035)" text-anchor="end">2024-08-03</text>
<text transform="translate(832.45 748.8) rotate(-90) scale(1.004 1.035)" text-anchor="end">2024-08-07</text>
<text transform="translate(860.14 748.8) rotate(-90) scale(1.004 1.035)" text-anchor="end">2024-08-11</text>
<text transform="translate(887.83 748.8) rotate(-90) scale(1.004 1.035)" text-anchor="end">2024-08-15</text>
<text transform="translate(915.53 748.8) rotate(-90) scale(1.004 1.035)" text-anchor="end">2024-08-19</text>
<text transform="translate(943.22 748.8) rotate(-90) scale(1.004 1.035)" text-anchor="end">2024-08-23</text>
<text transform="translate(970.91 748.8) rotate(-90) scale(1.004 1.035)" text-anchor="end">2024-08-27</text>
<text transform="translate(998.6 748.8) rotate(-90) scale(1.004 1.035)" text-anchor="end">2024-08-31</text>
<text transform="translate(1026.29 748.8) rotate(-90) scale(1.004 1.035)" text-anchor="end">2024-09-04</text>
<text transform="translate(1053.99 748.8) rotate(-90) scale(1.004 1.035)" text-anchor="end">2024-09-08</text>
<text transform="translate(1081.68 748.8) rotate(-90) scale(1.004 1.035)" text-anchor="end">2024-09-12</text>
<text transform="translate(1109.37 748.8) rotate(-90) scale(1.004 1.035)" text-anchor="end">2024-09-16</text>
<text transform="translate(1137.06 748.8) rotate(-90) scale(1.004 1.035)" text-anchor="end">2024-09-20</text>
<text transform="translate(1164.75 748.8) rotate(-90) scale(1.004 1.035)" text-anchor="end">2024-09-24</text>
<text transform="translate(1192.44 748.8) rotate(-90) scale(1.004 1.035)" text-anchor="end">2024-09-28</text>
<text transform="translate(1220.14 748.8) rotate(-90) scale(1.004 1.035)" text-anchor="end">2024-10-02</text>
<text transform="translate(1247.83 748.8) rotate(-90) scale(1.004 1.035)" text-anchor="end">2024-10-06</text>
<text transform="translate(1275.52 748.8) rotate(-90) scale(1.004 1.035)" text-anchor="end">2024-10-10</text>
<text transform="translate(1303.21 748.8) rotate(-90) scale(1.004 1.035)" text-anchor="end">2024-10-14</text>
<text transform="translate(1330.9 748.8) rotate(-90) scale(1.004 1.035)" text-anchor="end">2024-10-18</text>
<text transform="translate(1358.6 748.8) rotate(-90) scale(1.004 1.035)" text-anchor="end">2024-10-22</text>
<text transform="translate(1386.29 748.8) rotate(-90) scale(1.004 1.035)" text-anchor="end">2024-10-26</text>
<text transform="translate(1413.98 748.8) rotate(-90) scale(1.004 1.035)" text-anchor="end">2024-10-30</text>
<text transform="translate(1441.67 748.8) rotate(-90) scale(1.004 1.035)" text-anchor="end">2024-11-03</text>
<text transform="translate(1469.36 748.8) rotate(-90) scale(1.004 1.035)" text-anchor="end">2024-11-07</text>
<text transform="translate(1497.06 748.8) rotate(-90) scale(1.004 1.035)" text-anchor="end">2024-11-11</text>
<text transform="translate(1524.75 748.8) rotate(-90) scale(1.004 1.035)" text-anchor="end">2024-11-15</text>
<text transform="translate(1552.44 748.8) rotate(-90) scale(1.004 1.035)" text-anchor="end">2024-11-19</text>
</g>
<text class="xt" transform="translate(825 926.3) scale(1 1.04)" text-anchor="middle">Date</text>
</svg>
</body>
</html>
